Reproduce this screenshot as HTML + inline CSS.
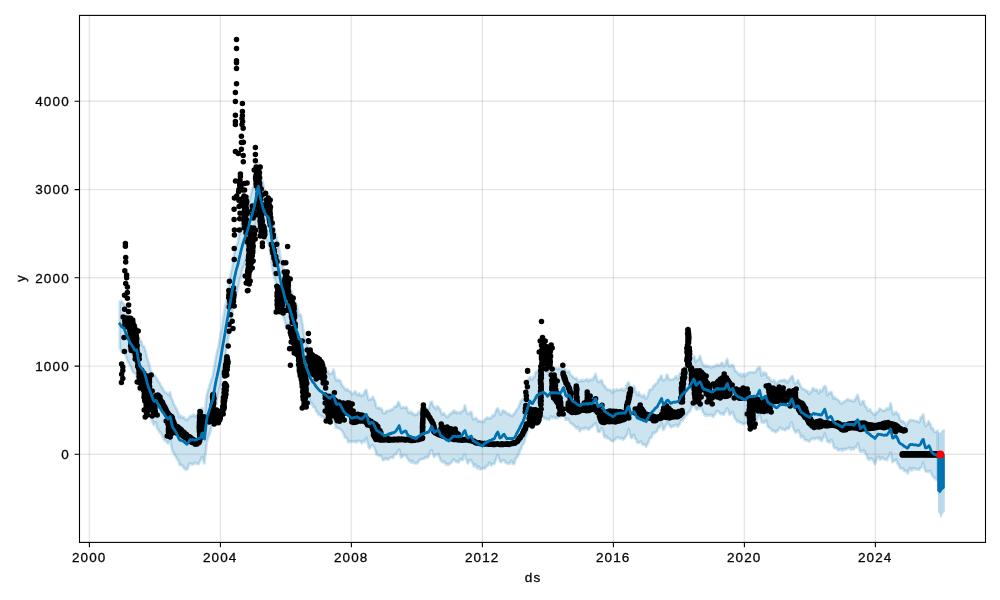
<!DOCTYPE html>
<html><head><meta charset="utf-8"><title>forecast</title><style>html,body{margin:0;padding:0;background:#fff;width:1000px;height:600px;overflow:hidden}.t text{font-family:"Liberation Sans",sans-serif}</style></head><body><svg width="1000" height="600" viewBox="0 0 1000 600" style="position:absolute;left:0;top:0">
<rect width="1000" height="600" fill="#fff"/>
<clipPath id="c"><rect x="79.5" y="15.4" width="906.0" height="527.0"/></clipPath>
<g clip-path="url(#c)">
<path d="M119.8 301.7 L120.4 302.0 L121.0 301.4 L121.6 301.1 L122.2 302.0 L122.8 303.1 L123.4 303.5 L124.0 303.9 L124.6 305.4 L125.2 306.4 L125.8 307.9 L126.4 310.7 L127.0 313.2 L127.6 314.7 L128.2 315.0 L128.8 315.4 L129.4 316.2 L130.0 317.8 L130.6 319.4 L131.2 319.6 L131.8 320.0 L132.4 322.2 L133.0 324.2 L133.6 324.3 L134.2 323.9 L134.8 325.0 L135.4 326.7 L136.0 326.3 L136.6 325.2 L137.2 328.2 L137.8 333.4 L138.4 337.3 L139.0 338.5 L139.6 340.6 L140.2 340.8 L140.8 340.8 L141.4 342.1 L142.0 344.1 L142.6 346.0 L143.2 346.0 L143.8 346.0 L144.4 347.5 L145.0 349.5 L145.6 350.9 L146.2 353.7 L146.8 356.4 L147.4 358.9 L148.0 361.1 L148.6 361.9 L149.2 364.6 L149.8 367.7 L150.4 369.7 L151.0 371.4 L151.6 373.1 L152.2 374.0 L152.8 374.4 L153.4 375.4 L154.0 376.1 L154.6 375.3 L155.2 375.7 L155.8 377.4 L156.4 377.9 L157.0 379.0 L157.6 380.3 L158.2 380.9 L158.8 381.9 L159.4 382.7 L160.0 383.2 L160.6 385.4 L161.2 386.8 L161.8 386.8 L162.4 387.6 L163.0 389.2 L163.6 390.7 L164.2 391.4 L164.8 391.9 L165.4 392.7 L166.0 392.7 L166.6 392.9 L167.2 393.9 L167.8 394.0 L168.4 394.9 L169.0 394.3 L169.6 392.8 L170.2 392.4 L170.8 396.0 L171.4 398.0 L172.0 399.0 L172.6 400.7 L173.2 402.4 L173.8 404.2 L174.4 405.0 L175.0 406.0 L175.6 407.3 L176.2 408.1 L176.8 409.8 L177.4 411.4 L178.0 412.2 L178.6 414.4 L179.2 417.4 L179.8 416.8 L180.4 415.3 L181.0 415.9 L181.6 417.3 L182.2 417.8 L182.8 417.2 L183.4 416.7 L184.0 417.3 L184.6 418.7 L185.2 419.1 L185.8 419.0 L186.4 419.4 L187.0 420.3 L187.6 419.6 L188.2 418.4 L188.8 417.9 L189.4 417.6 L190.0 416.0 L190.6 415.7 L191.2 416.2 L191.8 416.0 L192.4 415.7 L193.0 414.9 L193.6 414.5 L194.2 415.7 L194.8 416.5 L195.4 416.1 L196.0 415.7 L196.6 414.8 L197.2 414.4 L197.8 415.3 L198.4 416.4 L199.0 415.7 L199.6 414.4 L200.2 414.1 L200.8 413.5 L201.4 410.6 L202.0 408.1 L202.6 409.0 L203.2 409.9 L203.8 412.4 L204.4 415.4 L205.0 410.8 L205.6 405.5 L206.2 399.6 L206.8 394.4 L207.4 392.6 L208.0 390.6 L208.6 389.1 L209.2 386.8 L209.8 384.4 L210.4 382.6 L211.0 380.5 L211.6 378.9 L212.2 377.8 L212.8 376.0 L213.4 371.9 L214.0 368.1 L214.6 365.0 L215.2 361.4 L215.8 358.0 L216.4 355.0 L217.0 351.8 L217.6 349.5 L218.2 348.2 L218.8 344.3 L219.4 340.4 L220.0 338.3 L220.6 334.5 L221.2 331.4 L221.8 328.2 L222.4 323.8 L223.0 319.8 L223.6 316.5 L224.2 312.7 L224.8 308.3 L225.4 304.9 L226.0 302.8 L226.6 300.5 L227.2 297.6 L227.8 294.4 L228.4 290.1 L229.0 285.5 L229.6 281.2 L230.2 276.8 L230.8 273.4 L231.4 270.8 L232.0 268.2 L232.6 264.9 L233.2 260.4 L233.8 256.3 L234.4 253.1 L235.0 251.0 L235.6 248.9 L236.2 246.1 L236.8 244.5 L237.4 244.0 L238.0 241.5 L238.6 237.4 L239.2 234.1 L239.8 231.7 L240.4 229.5 L241.0 227.1 L241.6 225.0 L242.2 223.3 L242.8 222.0 L243.4 219.8 L244.0 217.2 L244.6 215.0 L245.2 212.7 L245.8 211.5 L246.4 210.6 L247.0 208.9 L247.6 207.2 L248.2 204.4 L248.8 202.2 L249.4 200.5 L250.0 198.0 L250.6 195.5 L251.2 193.1 L251.8 190.8 L252.4 188.8 L253.0 187.4 L253.6 186.3 L254.2 184.1 L254.8 180.2 L255.4 175.6 L256.0 173.2 L256.6 171.1 L257.2 167.6 L257.8 164.6 L258.4 163.2 L259.0 166.2 L259.6 170.9 L260.2 175.2 L260.8 176.6 L261.4 177.8 L262.0 179.8 L262.6 181.9 L263.2 183.8 L263.8 187.1 L264.4 190.1 L265.0 191.0 L265.6 191.4 L266.2 193.0 L266.8 194.2 L267.4 194.5 L268.0 195.2 L268.6 195.0 L269.2 198.1 L269.8 200.9 L270.4 202.7 L271.0 208.0 L271.6 214.0 L272.2 218.0 L272.8 220.5 L273.4 222.9 L274.0 226.5 L274.6 230.7 L275.2 232.7 L275.8 234.4 L276.4 237.2 L277.0 239.4 L277.6 242.0 L278.2 245.3 L278.8 248.1 L279.4 250.2 L280.0 253.7 L280.6 256.7 L281.2 259.5 L281.8 262.4 L282.4 264.8 L283.0 267.6 L283.6 269.9 L284.2 271.6 L284.8 273.9 L285.4 275.7 L286.0 277.1 L286.6 278.4 L287.2 279.4 L287.8 280.2 L288.4 281.0 L289.0 282.3 L289.6 284.5 L290.2 288.2 L290.8 290.7 L291.4 291.2 L292.0 292.5 L292.6 295.3 L293.2 298.4 L293.8 300.2 L294.4 300.1 L295.0 301.0 L295.6 302.6 L296.2 303.9 L296.8 306.0 L297.4 308.4 L298.0 310.8 L298.6 313.7 L299.2 315.3 L299.8 314.4 L300.4 314.3 L301.0 315.7 L301.6 319.5 L302.2 322.5 L302.8 325.9 L303.4 331.1 L304.0 334.5 L304.6 337.0 L305.2 340.1 L305.8 342.2 L306.4 343.2 L307.0 344.3 L307.6 346.1 L308.2 347.2 L308.8 348.2 L309.4 350.3 L310.0 352.0 L310.6 353.4 L311.2 355.2 L311.8 357.4 L312.4 358.5 L313.0 359.2 L313.6 359.4 L314.2 358.2 L314.8 358.2 L315.4 360.6 L316.0 362.8 L316.6 363.8 L317.2 364.9 L317.8 365.2 L318.4 364.9 L319.0 366.5 L319.6 367.9 L320.2 366.6 L320.8 365.7 L321.4 366.8 L322.0 368.1 L322.6 368.7 L323.2 368.9 L323.8 368.7 L324.4 369.0 L325.0 371.2 L325.6 373.3 L326.2 372.7 L326.8 371.7 L327.4 371.2 L328.0 371.1 L328.6 372.7 L329.2 373.8 L329.8 373.6 L330.4 373.7 L331.0 373.9 L331.6 373.6 L332.2 372.9 L332.8 371.3 L333.4 369.6 L334.0 370.9 L334.6 374.2 L335.2 377.1 L335.8 379.9 L336.4 380.8 L337.0 379.8 L337.6 379.6 L338.2 380.0 L338.8 380.1 L339.4 380.1 L340.0 380.3 L340.6 381.9 L341.2 383.1 L341.8 384.3 L342.4 385.8 L343.0 386.6 L343.6 386.9 L344.2 387.9 L344.8 388.6 L345.4 389.6 L346.0 390.2 L346.6 389.2 L347.2 388.8 L347.8 389.9 L348.4 390.6 L349.0 390.7 L349.6 391.4 L350.2 391.6 L350.8 392.0 L351.4 393.4 L352.0 394.3 L352.6 393.7 L353.2 393.4 L353.8 393.5 L354.4 392.4 L355.0 391.1 L355.6 391.9 L356.2 393.3 L356.8 394.4 L357.4 395.3 L358.0 394.7 L358.6 393.6 L359.2 393.3 L359.8 394.3 L360.4 395.7 L361.0 395.8 L361.6 395.1 L362.2 394.7 L362.8 395.3 L363.4 395.1 L364.0 393.4 L364.6 391.5 L365.2 390.6 L365.8 390.1 L366.4 389.9 L367.0 393.2 L367.6 396.0 L368.2 398.2 L368.8 400.1 L369.4 399.8 L370.0 399.2 L370.6 398.8 L371.2 399.0 L371.8 399.3 L372.4 397.7 L373.0 396.7 L373.6 398.5 L374.2 399.8 L374.8 400.6 L375.4 402.9 L376.0 406.1 L376.6 407.7 L377.2 407.3 L377.8 408.1 L378.4 408.4 L379.0 407.5 L379.6 407.9 L380.2 408.8 L380.8 408.7 L381.4 408.4 L382.0 409.6 L382.6 411.7 L383.2 413.0 L383.8 413.1 L384.4 413.0 L385.0 413.3 L385.6 412.2 L386.2 410.8 L386.8 410.9 L387.4 410.9 L388.0 410.7 L388.6 410.8 L389.2 411.0 L389.8 410.4 L390.4 409.8 L391.0 410.1 L391.6 409.5 L392.2 409.2 L392.8 409.3 L393.4 408.4 L394.0 407.4 L394.6 406.8 L395.2 406.3 L395.8 406.6 L396.4 406.8 L397.0 405.1 L397.6 403.5 L398.2 402.2 L398.8 402.1 L399.4 403.7 L400.0 405.6 L400.6 406.5 L401.2 408.2 L401.8 408.2 L402.4 407.5 L403.0 407.0 L403.6 407.0 L404.2 407.7 L404.8 407.9 L405.4 407.3 L406.0 406.9 L406.6 407.5 L407.2 408.9 L407.8 410.6 L408.4 412.1 L409.0 412.9 L409.6 412.7 L410.2 411.7 L410.8 411.5 L411.4 413.3 L412.0 413.8 L412.6 412.8 L413.2 413.6 L413.8 414.4 L414.4 414.4 L415.0 415.2 L415.6 414.6 L416.2 414.2 L416.8 414.8 L417.4 414.1 L418.0 413.0 L418.6 412.2 L419.2 411.5 L419.8 411.8 L420.4 411.1 L421.0 410.3 L421.6 410.3 L422.2 410.6 L422.8 410.4 L423.4 409.7 L424.0 409.7 L424.6 409.1 L425.2 408.3 L425.8 408.0 L426.4 407.5 L427.0 407.8 L427.6 408.6 L428.2 408.7 L428.8 408.8 L429.4 407.0 L430.0 404.1 L430.6 402.1 L431.2 401.9 L431.8 401.7 L432.4 403.4 L433.0 405.3 L433.6 407.2 L434.2 407.1 L434.8 406.6 L435.4 408.2 L436.0 409.3 L436.6 407.8 L437.2 406.3 L437.8 406.7 L438.4 407.1 L439.0 408.2 L439.6 408.5 L440.2 409.5 L440.8 411.5 L441.4 413.0 L442.0 414.6 L442.6 414.8 L443.2 413.3 L443.8 413.0 L444.4 413.8 L445.0 414.5 L445.6 415.4 L446.2 416.0 L446.8 416.7 L447.4 417.3 L448.0 416.6 L448.6 415.6 L449.2 414.8 L449.8 414.3 L450.4 413.4 L451.0 413.0 L451.6 413.7 L452.2 413.3 L452.8 411.8 L453.4 411.0 L454.0 410.5 L454.6 411.8 L455.2 412.6 L455.8 411.5 L456.4 412.0 L457.0 413.1 L457.6 412.7 L458.2 412.5 L458.8 412.4 L459.4 412.1 L460.0 412.9 L460.6 413.3 L461.2 411.8 L461.8 411.0 L462.4 411.0 L463.0 410.9 L463.6 410.0 L464.2 408.0 L464.8 405.3 L465.4 407.0 L466.0 409.9 L466.6 412.0 L467.2 413.3 L467.8 413.5 L468.4 414.2 L469.0 413.8 L469.6 412.9 L470.2 412.4 L470.8 411.7 L471.4 412.0 L472.0 414.4 L472.6 417.6 L473.2 419.6 L473.8 418.9 L474.4 418.5 L475.0 418.4 L475.6 417.9 L476.2 418.2 L476.8 418.9 L477.4 420.6 L478.0 421.5 L478.6 420.5 L479.2 420.5 L479.8 421.6 L480.4 421.8 L481.0 421.6 L481.6 421.4 L482.2 421.0 L482.8 421.7 L483.4 422.0 L484.0 421.1 L484.6 419.7 L485.2 418.8 L485.8 418.8 L486.4 418.4 L487.0 417.6 L487.6 417.4 L488.2 418.2 L488.8 418.4 L489.4 417.9 L490.0 417.9 L490.6 418.2 L491.2 417.9 L491.8 416.5 L492.4 415.4 L493.0 415.0 L493.6 415.2 L494.2 415.7 L494.8 414.6 L495.4 412.6 L496.0 410.7 L496.6 409.5 L497.2 408.8 L497.8 408.3 L498.4 409.7 L499.0 411.1 L499.6 412.6 L500.2 414.4 L500.8 414.8 L501.4 413.8 L502.0 412.0 L502.6 410.6 L503.2 410.3 L503.8 411.1 L504.4 411.7 L505.0 411.1 L505.6 411.8 L506.2 413.5 L506.8 413.4 L507.4 413.1 L508.0 414.2 L508.6 414.5 L509.2 413.6 L509.8 414.4 L510.4 415.6 L511.0 415.3 L511.6 415.3 L512.2 416.1 L512.8 415.2 L513.4 414.2 L514.0 414.2 L514.6 413.3 L515.2 412.1 L515.8 410.9 L516.4 410.0 L517.0 409.3 L517.6 408.8 L518.2 407.9 L518.8 406.2 L519.4 405.0 L520.0 403.4 L520.6 401.2 L521.2 400.6 L521.8 400.3 L522.4 399.3 L523.0 399.4 L523.6 399.1 L524.2 396.0 L524.8 393.1 L525.4 391.6 L526.0 389.3 L526.6 386.7 L527.2 385.5 L527.8 382.7 L528.4 379.2 L529.0 378.1 L529.6 377.5 L530.2 377.1 L530.8 378.2 L531.4 379.2 L532.0 379.7 L532.6 378.8 L533.2 377.1 L533.8 377.4 L534.4 377.1 L535.0 374.6 L535.6 372.1 L536.2 372.0 L536.8 372.5 L537.4 371.0 L538.0 369.8 L538.6 369.9 L539.2 370.2 L539.8 369.4 L540.4 368.2 L541.0 367.8 L541.6 368.7 L542.2 369.4 L542.8 369.0 L543.4 368.8 L544.0 368.9 L544.6 369.2 L545.2 369.8 L545.8 370.7 L546.4 371.8 L547.0 371.9 L547.6 371.8 L548.2 371.2 L548.8 370.8 L549.4 370.4 L550.0 369.8 L550.6 368.4 L551.2 367.6 L551.8 368.7 L552.4 369.2 L553.0 368.7 L553.6 369.5 L554.2 369.5 L554.8 368.1 L555.4 367.9 L556.0 368.7 L556.6 368.5 L557.2 368.5 L557.8 369.0 L558.4 368.3 L559.0 367.7 L559.6 368.0 L560.2 369.1 L560.8 369.2 L561.4 368.2 L562.0 366.7 L562.6 365.2 L563.2 363.8 L563.8 364.4 L564.4 367.7 L565.0 368.9 L565.6 369.3 L566.2 371.6 L566.8 372.6 L567.4 371.5 L568.0 371.2 L568.6 371.4 L569.2 371.1 L569.8 373.4 L570.4 374.8 L571.0 374.9 L571.6 375.7 L572.2 375.9 L572.8 376.3 L573.4 377.6 L574.0 378.1 L574.6 378.4 L575.2 378.7 L575.8 378.1 L576.4 377.9 L577.0 379.1 L577.6 380.7 L578.2 381.8 L578.8 381.3 L579.4 380.7 L580.0 381.5 L580.6 381.6 L581.2 380.0 L581.8 379.9 L582.4 380.8 L583.0 380.9 L583.6 380.6 L584.2 380.6 L584.8 380.4 L585.4 380.1 L586.0 379.5 L586.6 379.1 L587.2 379.2 L587.8 380.3 L588.4 381.5 L589.0 380.8 L589.6 379.7 L590.2 379.5 L590.8 379.4 L591.4 379.6 L592.0 379.9 L592.6 379.7 L593.2 378.6 L593.8 377.2 L594.4 376.6 L595.0 375.6 L595.6 373.7 L596.2 376.2 L596.8 378.7 L597.4 380.5 L598.0 381.8 L598.6 381.5 L599.2 382.1 L599.8 381.2 L600.4 380.5 L601.0 380.5 L601.6 380.1 L602.2 381.3 L602.8 383.7 L603.4 385.0 L604.0 385.7 L604.6 385.6 L605.2 386.4 L605.8 388.3 L606.4 388.5 L607.0 388.9 L607.6 390.0 L608.2 389.6 L608.8 389.5 L609.4 390.1 L610.0 390.2 L610.6 390.1 L611.2 391.2 L611.8 392.9 L612.4 392.2 L613.0 390.0 L613.6 389.9 L614.2 391.3 L614.8 391.1 L615.4 390.7 L616.0 390.0 L616.6 389.1 L617.2 389.8 L617.8 390.2 L618.4 390.0 L619.0 390.1 L619.6 390.0 L620.2 389.2 L620.8 389.0 L621.4 389.6 L622.0 389.1 L622.6 388.7 L623.2 390.0 L623.8 390.9 L624.4 390.5 L625.0 389.6 L625.6 388.5 L626.2 386.4 L626.8 384.7 L627.4 383.9 L628.0 382.7 L628.6 382.2 L629.2 384.6 L629.8 385.3 L630.4 386.8 L631.0 390.1 L631.6 390.4 L632.2 389.4 L632.8 387.9 L633.4 386.9 L634.0 386.0 L634.6 387.2 L635.2 390.0 L635.8 392.1 L636.4 393.0 L637.0 394.4 L637.6 395.1 L638.2 393.6 L638.8 392.4 L639.4 393.7 L640.0 395.2 L640.6 395.4 L641.2 395.2 L641.8 396.4 L642.4 397.1 L643.0 395.9 L643.6 395.0 L644.2 395.3 L644.8 396.9 L645.4 398.3 L646.0 398.7 L646.6 398.2 L647.2 397.0 L647.8 395.4 L648.4 393.6 L649.0 391.3 L649.6 389.9 L650.2 389.5 L650.8 389.0 L651.4 389.3 L652.0 389.4 L652.6 387.9 L653.2 386.1 L653.8 385.8 L654.4 385.9 L655.0 384.7 L655.6 383.8 L656.2 383.4 L656.8 383.2 L657.4 382.9 L658.0 380.7 L658.6 379.3 L659.2 379.5 L659.8 378.7 L660.4 377.2 L661.0 375.9 L661.6 375.8 L662.2 378.4 L662.8 380.0 L663.4 380.7 L664.0 380.4 L664.6 380.0 L665.2 379.5 L665.8 378.4 L666.4 376.1 L667.0 374.6 L667.6 375.4 L668.2 377.4 L668.8 378.5 L669.4 379.7 L670.0 379.8 L670.6 379.5 L671.2 379.6 L671.8 379.6 L672.4 379.7 L673.0 379.4 L673.6 378.9 L674.2 378.6 L674.8 377.7 L675.4 376.9 L676.0 376.4 L676.6 376.2 L677.2 377.4 L677.8 379.0 L678.4 379.3 L679.0 376.9 L679.6 374.0 L680.2 373.1 L680.8 373.0 L681.4 371.6 L682.0 370.1 L682.6 368.8 L683.2 369.0 L683.8 369.6 L684.4 368.9 L685.0 367.6 L685.6 366.2 L686.2 366.0 L686.8 366.6 L687.4 366.0 L688.0 364.9 L688.6 363.9 L689.2 363.4 L689.8 363.7 L690.4 362.6 L691.0 360.3 L691.6 359.4 L692.2 358.6 L692.8 357.5 L693.4 357.5 L694.0 356.2 L694.6 357.3 L695.2 360.0 L695.8 362.0 L696.4 361.1 L697.0 360.5 L697.6 360.0 L698.2 359.4 L698.8 359.1 L699.4 357.6 L700.0 355.8 L700.6 357.4 L701.2 360.0 L701.8 362.1 L702.4 363.2 L703.0 364.2 L703.6 365.3 L704.2 366.3 L704.8 366.0 L705.4 365.1 L706.0 365.8 L706.6 366.6 L707.2 366.1 L707.8 365.9 L708.4 366.1 L709.0 366.4 L709.6 366.6 L710.2 366.6 L710.8 367.7 L711.4 367.5 L712.0 367.0 L712.6 366.7 L713.2 366.2 L713.8 366.9 L714.4 367.0 L715.0 365.7 L715.6 365.4 L716.2 365.5 L716.8 364.7 L717.4 364.7 L718.0 365.7 L718.6 365.9 L719.2 365.0 L719.8 365.1 L720.4 364.7 L721.0 363.2 L721.6 362.9 L722.2 362.6 L722.8 363.4 L723.4 365.7 L724.0 366.2 L724.6 365.9 L725.2 364.4 L725.8 362.6 L726.4 360.7 L727.0 359.1 L727.6 360.2 L728.2 362.8 L728.8 365.1 L729.4 366.4 L730.0 366.3 L730.6 365.9 L731.2 365.1 L731.8 364.8 L732.4 365.1 L733.0 365.2 L733.6 366.2 L734.2 367.8 L734.8 369.7 L735.4 370.8 L736.0 371.5 L736.6 371.8 L737.2 372.5 L737.8 373.1 L738.4 373.7 L739.0 374.6 L739.6 375.1 L740.2 374.1 L740.8 373.7 L741.4 375.8 L742.0 376.6 L742.6 375.2 L743.2 373.9 L743.8 374.0 L744.4 375.2 L745.0 376.1 L745.6 375.4 L746.2 373.7 L746.8 373.8 L747.4 374.3 L748.0 373.1 L748.6 372.3 L749.2 372.5 L749.8 372.3 L750.4 372.2 L751.0 372.2 L751.6 372.0 L752.2 372.4 L752.8 372.8 L753.4 372.4 L754.0 372.0 L754.6 372.1 L755.2 372.1 L755.8 371.8 L756.4 371.1 L757.0 369.3 L757.6 368.0 L758.2 368.0 L758.8 368.3 L759.4 366.9 L760.0 367.1 L760.6 370.4 L761.2 374.2 L761.8 375.7 L762.4 374.4 L763.0 372.6 L763.6 372.1 L764.2 373.8 L764.8 374.4 L765.4 372.8 L766.0 372.9 L766.6 374.6 L767.2 376.6 L767.8 377.8 L768.4 377.4 L769.0 377.3 L769.6 378.4 L770.2 380.3 L770.8 380.8 L771.4 380.5 L772.0 381.1 L772.6 381.3 L773.2 381.0 L773.8 380.6 L774.4 380.3 L775.0 381.9 L775.6 383.5 L776.2 383.1 L776.8 383.6 L777.4 383.1 L778.0 381.6 L778.6 381.3 L779.2 381.1 L779.8 380.9 L780.4 380.6 L781.0 380.1 L781.6 380.2 L782.2 380.9 L782.8 380.7 L783.4 380.0 L784.0 379.5 L784.6 379.9 L785.2 380.6 L785.8 380.3 L786.4 381.1 L787.0 382.5 L787.6 382.1 L788.2 380.8 L788.8 380.2 L789.4 379.5 L790.0 379.2 L790.6 377.9 L791.2 377.1 L791.8 376.4 L792.4 376.0 L793.0 377.4 L793.6 380.1 L794.2 382.9 L794.8 383.6 L795.4 383.2 L796.0 383.4 L796.6 383.0 L797.2 381.2 L797.8 380.2 L798.4 380.9 L799.0 382.5 L799.6 383.8 L800.2 385.5 L800.8 386.6 L801.4 387.2 L802.0 388.3 L802.6 388.9 L803.2 389.2 L803.8 389.2 L804.4 389.3 L805.0 389.6 L805.6 390.4 L806.2 391.3 L806.8 391.1 L807.4 390.8 L808.0 391.8 L808.6 393.3 L809.2 394.1 L809.8 393.5 L810.4 391.7 L811.0 391.4 L811.6 391.7 L812.2 389.8 L812.8 388.2 L813.4 388.4 L814.0 388.7 L814.6 390.0 L815.2 390.6 L815.8 390.1 L816.4 389.4 L817.0 389.8 L817.6 391.1 L818.2 392.5 L818.8 393.5 L819.4 391.9 L820.0 389.8 L820.6 390.1 L821.2 391.2 L821.8 391.4 L822.4 390.0 L823.0 388.5 L823.6 387.3 L824.2 386.8 L824.8 385.8 L825.4 386.4 L826.0 387.4 L826.6 391.0 L827.2 395.2 L827.8 394.6 L828.4 393.1 L829.0 392.8 L829.6 393.4 L830.2 393.1 L830.8 392.0 L831.4 391.9 L832.0 393.6 L832.6 395.6 L833.2 398.0 L833.8 398.9 L834.4 397.2 L835.0 397.2 L835.6 398.8 L836.2 399.2 L836.8 398.7 L837.4 399.2 L838.0 400.0 L838.6 400.4 L839.2 400.8 L839.8 401.8 L840.4 402.9 L841.0 403.5 L841.6 403.5 L842.2 403.2 L842.8 402.1 L843.4 401.7 L844.0 401.9 L844.6 401.6 L845.2 401.1 L845.8 400.5 L846.4 400.3 L847.0 399.8 L847.6 399.1 L848.2 399.2 L848.8 400.0 L849.4 400.4 L850.0 400.2 L850.6 400.1 L851.2 400.4 L851.8 400.9 L852.4 401.2 L853.0 400.7 L853.6 400.7 L854.2 401.2 L854.8 400.6 L855.4 399.1 L856.0 397.8 L856.6 396.4 L857.2 395.3 L857.8 395.0 L858.4 397.3 L859.0 399.5 L859.6 402.1 L860.2 403.9 L860.8 404.4 L861.4 403.4 L862.0 401.9 L862.6 401.3 L863.2 400.9 L863.8 401.2 L864.4 403.8 L865.0 406.2 L865.6 406.6 L866.2 406.6 L866.8 408.0 L867.4 409.8 L868.0 410.5 L868.6 410.7 L869.2 409.9 L869.8 409.3 L870.4 409.5 L871.0 411.0 L871.6 412.2 L872.2 412.3 L872.8 413.1 L873.4 414.1 L874.0 414.2 L874.6 414.1 L875.2 414.7 L875.8 414.3 L876.4 412.5 L877.0 412.2 L877.6 412.3 L878.2 411.7 L878.8 410.6 L879.4 408.6 L880.0 408.6 L880.6 409.3 L881.2 409.7 L881.8 410.5 L882.4 410.6 L883.0 410.6 L883.6 410.5 L884.2 410.3 L884.8 410.9 L885.4 410.5 L886.0 408.9 L886.6 408.4 L887.2 408.8 L887.8 408.6 L888.4 409.1 L889.0 409.0 L889.6 407.1 L890.2 403.8 L890.8 403.2 L891.4 406.7 L892.0 409.8 L892.6 412.8 L893.2 414.2 L893.8 414.4 L894.4 412.6 L895.0 412.7 L895.6 413.3 L896.2 411.8 L896.8 412.9 L897.4 414.4 L898.0 413.9 L898.6 414.2 L899.2 416.5 L899.8 418.9 L900.4 419.9 L901.0 420.7 L901.6 421.6 L902.2 421.2 L902.8 420.8 L903.4 421.6 L904.0 422.6 L904.6 422.6 L905.2 423.0 L905.8 424.7 L906.4 425.6 L907.0 424.8 L907.6 423.5 L908.2 422.0 L908.8 421.7 L909.4 420.9 L910.0 419.8 L910.6 420.3 L911.2 420.4 L911.8 420.1 L912.4 420.2 L913.0 420.3 L913.6 420.1 L914.2 420.7 L914.8 421.4 L915.4 421.2 L916.0 420.7 L916.6 421.1 L917.2 421.6 L917.8 421.6 L918.4 421.7 L919.0 422.3 L919.6 421.8 L920.2 419.2 L920.8 417.4 L921.4 416.9 L922.0 416.7 L922.6 415.6 L923.2 414.4 L923.8 417.6 L924.4 421.5 L925.0 424.2 L925.6 426.1 L926.2 425.7 L926.8 425.2 L927.4 424.1 L928.0 422.4 L928.6 421.2 L929.2 422.0 L929.8 423.8 L930.4 424.2 L931.0 426.0 L931.6 428.6 L932.2 428.7 L932.8 428.2 L933.4 429.0 L934.0 431.1 L934.6 432.1 L935.2 431.9 L935.8 432.0 L936.4 431.7 L937.0 431.1 L937.6 430.6 L937.6 479.1 L937.0 479.6 L936.4 479.9 L935.8 479.2 L935.2 477.8 L934.6 478.3 L934.0 478.1 L933.4 476.6 L932.8 476.2 L932.2 475.6 L931.6 474.6 L931.0 472.2 L930.4 470.8 L929.8 471.0 L929.2 471.2 L928.6 472.0 L928.0 471.5 L927.4 471.4 L926.8 471.9 L926.2 471.6 L925.6 471.4 L925.0 469.7 L924.4 468.2 L923.8 465.8 L923.2 462.7 L922.6 464.2 L922.0 466.5 L921.4 467.6 L920.8 467.8 L920.2 467.9 L919.6 469.1 L919.0 469.8 L918.4 469.4 L917.8 469.3 L917.2 469.5 L916.6 469.4 L916.0 469.5 L915.4 468.5 L914.8 468.3 L914.2 469.3 L913.6 468.9 L913.0 468.1 L912.4 468.9 L911.8 470.5 L911.2 470.2 L910.6 468.5 L910.0 468.0 L909.4 469.2 L908.8 470.7 L908.2 472.7 L907.6 473.5 L907.0 472.1 L906.4 470.9 L905.8 470.5 L905.2 470.8 L904.6 471.2 L904.0 470.8 L903.4 469.0 L902.8 468.1 L902.2 468.6 L901.6 468.5 L901.0 468.5 L900.4 468.6 L899.8 467.8 L899.2 466.0 L898.6 464.4 L898.0 464.3 L897.4 463.7 L896.8 461.0 L896.2 459.2 L895.6 460.2 L895.0 460.8 L894.4 460.8 L893.8 460.9 L893.2 461.5 L892.6 462.2 L892.0 460.1 L891.4 456.3 L890.8 452.5 L890.2 453.1 L889.6 455.5 L889.0 456.8 L888.4 457.1 L887.8 458.1 L887.2 460.1 L886.6 459.9 L886.0 459.3 L885.4 459.5 L884.8 459.6 L884.2 459.4 L883.6 459.1 L883.0 458.3 L882.4 457.3 L881.8 457.6 L881.2 458.6 L880.6 459.1 L880.0 459.6 L879.4 458.2 L878.8 456.7 L878.2 456.8 L877.6 457.3 L877.0 458.4 L876.4 460.0 L875.8 461.6 L875.2 463.6 L874.6 464.1 L874.0 462.5 L873.4 460.6 L872.8 459.5 L872.2 459.4 L871.6 458.9 L871.0 458.2 L870.4 458.9 L869.8 459.8 L869.2 459.1 L868.6 459.0 L868.0 459.3 L867.4 457.5 L866.8 455.4 L866.2 454.5 L865.6 453.7 L865.0 452.9 L864.4 451.0 L863.8 450.2 L863.2 450.9 L862.6 451.5 L862.0 451.8 L861.4 451.1 L860.8 451.3 L860.2 451.9 L859.6 450.3 L859.0 447.7 L858.4 445.4 L857.8 443.2 L857.2 445.1 L856.6 447.5 L856.0 447.5 L855.4 446.9 L854.8 447.5 L854.2 448.6 L853.6 449.5 L853.0 449.3 L852.4 448.0 L851.8 448.4 L851.2 449.8 L850.6 449.3 L850.0 447.8 L849.4 447.4 L848.8 448.0 L848.2 448.6 L847.6 448.8 L847.0 448.8 L846.4 448.7 L845.8 448.9 L845.2 449.7 L844.6 449.7 L844.0 448.8 L843.4 449.0 L842.8 450.5 L842.2 450.9 L841.6 449.7 L841.0 448.9 L840.4 449.2 L839.8 450.1 L839.2 450.2 L838.6 450.1 L838.0 450.4 L837.4 449.1 L836.8 447.9 L836.2 448.3 L835.6 448.5 L835.0 448.2 L834.4 448.0 L833.8 447.2 L833.2 444.4 L832.6 442.1 L832.0 441.2 L831.4 439.6 L830.8 440.1 L830.2 442.2 L829.6 442.7 L829.0 441.4 L828.4 441.2 L827.8 441.7 L827.2 441.5 L826.6 438.9 L826.0 437.3 L825.4 435.4 L824.8 433.5 L824.2 436.2 L823.6 437.9 L823.0 437.8 L822.4 438.9 L821.8 440.8 L821.2 440.9 L820.6 440.1 L820.0 438.4 L819.4 437.5 L818.8 438.7 L818.2 439.2 L817.6 438.2 L817.0 438.0 L816.4 438.0 L815.8 438.0 L815.2 439.0 L814.6 439.4 L814.0 438.6 L813.4 438.3 L812.8 438.1 L812.2 438.6 L811.6 439.4 L811.0 439.3 L810.4 439.7 L809.8 441.2 L809.2 441.4 L808.6 441.4 L808.0 441.1 L807.4 440.6 L806.8 440.4 L806.2 440.0 L805.6 440.0 L805.0 440.2 L804.4 439.2 L803.8 437.7 L803.2 436.3 L802.6 436.2 L802.0 437.2 L801.4 437.6 L800.8 437.1 L800.2 434.8 L799.6 433.5 L799.0 432.1 L798.4 430.3 L797.8 430.9 L797.2 431.2 L796.6 431.8 L796.0 432.7 L795.4 432.3 L794.8 430.9 L794.2 430.2 L793.6 429.0 L793.0 427.4 L792.4 425.1 L791.8 422.5 L791.2 422.8 L790.6 424.7 L790.0 426.3 L789.4 427.8 L788.8 428.9 L788.2 428.8 L787.6 428.4 L787.0 427.9 L786.4 428.4 L785.8 429.7 L785.2 430.4 L784.6 430.0 L784.0 429.8 L783.4 429.4 L782.8 429.0 L782.2 429.3 L781.6 429.2 L781.0 428.6 L780.4 427.8 L779.8 427.5 L779.2 428.3 L778.6 430.1 L778.0 430.6 L777.4 430.1 L776.8 431.2 L776.2 432.2 L775.6 432.4 L775.0 431.7 L774.4 430.9 L773.8 430.7 L773.2 431.0 L772.6 431.1 L772.0 430.6 L771.4 429.9 L770.8 428.7 L770.2 427.8 L769.6 428.2 L769.0 427.7 L768.4 427.2 L767.8 426.7 L767.2 424.1 L766.6 421.1 L766.0 420.3 L765.4 421.2 L764.8 422.3 L764.2 422.6 L763.6 422.7 L763.0 422.4 L762.4 422.2 L761.8 422.6 L761.2 421.1 L760.6 417.7 L760.0 415.2 L759.4 415.4 L758.8 416.5 L758.2 416.6 L757.6 418.2 L757.0 420.6 L756.4 420.6 L755.8 419.4 L755.2 419.8 L754.6 420.7 L754.0 420.7 L753.4 420.3 L752.8 421.0 L752.2 421.8 L751.6 421.1 L751.0 420.9 L750.4 421.3 L749.8 421.8 L749.2 421.6 L748.6 420.6 L748.0 420.4 L747.4 420.7 L746.8 421.8 L746.2 423.2 L745.6 423.2 L745.0 423.5 L744.4 423.9 L743.8 423.9 L743.2 424.4 L742.6 423.9 L742.0 423.0 L741.4 422.9 L740.8 422.7 L740.2 423.0 L739.6 422.6 L739.0 421.5 L738.4 421.1 L737.8 421.8 L737.2 421.7 L736.6 420.2 L736.0 419.6 L735.4 419.2 L734.8 418.1 L734.2 416.4 L733.6 414.8 L733.0 412.7 L732.4 411.8 L731.8 412.8 L731.2 413.9 L730.6 414.1 L730.0 414.6 L729.4 414.6 L728.8 412.2 L728.2 410.0 L727.6 409.0 L727.0 408.5 L726.4 410.3 L725.8 411.5 L725.2 411.8 L724.6 413.0 L724.0 414.6 L723.4 414.9 L722.8 413.7 L722.2 413.5 L721.6 414.1 L721.0 414.3 L720.4 413.7 L719.8 413.1 L719.2 412.8 L718.6 411.9 L718.0 410.8 L717.4 410.8 L716.8 411.2 L716.2 411.9 L715.6 413.6 L715.0 414.5 L714.4 414.6 L713.8 415.7 L713.2 416.8 L712.6 416.5 L712.0 415.7 L711.4 414.8 L710.8 415.0 L710.2 415.4 L709.6 415.4 L709.0 415.5 L708.4 415.2 L707.8 414.9 L707.2 415.5 L706.6 415.8 L706.0 414.5 L705.4 414.6 L704.8 415.4 L704.2 414.1 L703.6 412.9 L703.0 412.2 L702.4 410.9 L701.8 409.0 L701.2 407.1 L700.6 407.0 L700.0 408.1 L699.4 408.7 L698.8 407.3 L698.2 407.8 L697.6 409.2 L697.0 409.7 L696.4 409.4 L695.8 408.9 L695.2 407.1 L694.6 405.5 L694.0 404.2 L693.4 405.0 L692.8 405.2 L692.2 405.8 L691.6 406.9 L691.0 408.5 L690.4 410.4 L689.8 411.7 L689.2 411.9 L688.6 412.1 L688.0 412.8 L687.4 414.1 L686.8 415.4 L686.2 415.3 L685.6 415.1 L685.0 416.5 L684.4 417.9 L683.8 418.4 L683.2 419.3 L682.6 420.6 L682.0 420.6 L681.4 420.2 L680.8 421.0 L680.2 422.9 L679.6 424.5 L679.0 424.9 L678.4 425.7 L677.8 426.7 L677.2 426.2 L676.6 424.6 L676.0 424.6 L675.4 425.6 L674.8 425.9 L674.2 425.3 L673.6 425.6 L673.0 426.7 L672.4 426.6 L671.8 426.7 L671.2 427.4 L670.6 427.2 L670.0 426.0 L669.4 425.0 L668.8 424.7 L668.2 423.8 L667.6 422.1 L667.0 423.4 L666.4 424.8 L665.8 425.6 L665.2 426.8 L664.6 427.7 L664.0 429.0 L663.4 430.1 L662.8 428.6 L662.2 425.9 L661.6 423.4 L661.0 424.2 L660.4 426.3 L659.8 427.8 L659.2 427.4 L658.6 426.9 L658.0 428.6 L657.4 430.3 L656.8 431.2 L656.2 432.0 L655.6 432.3 L655.0 432.9 L654.4 433.5 L653.8 432.6 L653.2 432.7 L652.6 434.5 L652.0 436.2 L651.4 437.5 L650.8 437.9 L650.2 437.9 L649.6 438.8 L649.0 440.3 L648.4 442.1 L647.8 443.8 L647.2 444.6 L646.6 446.0 L646.0 446.8 L645.4 444.9 L644.8 444.5 L644.2 444.9 L643.6 444.0 L643.0 444.2 L642.4 444.5 L641.8 442.8 L641.2 441.6 L640.6 441.7 L640.0 442.1 L639.4 442.7 L638.8 442.5 L638.2 442.4 L637.6 442.9 L637.0 441.8 L636.4 439.7 L635.8 439.4 L635.2 438.8 L634.6 436.8 L634.0 434.9 L633.4 435.4 L632.8 437.0 L632.2 437.8 L631.6 437.7 L631.0 438.0 L630.4 435.7 L629.8 433.4 L629.2 430.5 L628.6 429.0 L628.0 431.3 L627.4 433.4 L626.8 435.2 L626.2 436.0 L625.6 436.5 L625.0 437.8 L624.4 438.7 L623.8 439.0 L623.2 439.7 L622.6 439.3 L622.0 437.9 L621.4 437.8 L620.8 438.5 L620.2 438.4 L619.6 438.5 L619.0 438.4 L618.4 437.5 L617.8 437.4 L617.2 437.7 L616.6 437.9 L616.0 438.8 L615.4 439.4 L614.8 439.7 L614.2 440.1 L613.6 440.9 L613.0 441.4 L612.4 441.0 L611.8 441.0 L611.2 440.9 L610.6 440.2 L610.0 439.4 L609.4 439.0 L608.8 438.4 L608.2 437.9 L607.6 438.1 L607.0 438.3 L606.4 436.8 L605.8 435.9 L605.2 436.9 L604.6 437.5 L604.0 435.8 L603.4 432.9 L602.8 430.2 L602.2 428.3 L601.6 428.2 L601.0 429.0 L600.4 430.4 L599.8 431.7 L599.2 432.0 L598.6 432.0 L598.0 431.8 L597.4 429.0 L596.8 426.6 L596.2 424.5 L595.6 422.8 L595.0 424.4 L594.4 424.6 L593.8 424.6 L593.2 425.5 L592.6 426.2 L592.0 427.0 L591.4 427.4 L590.8 427.1 L590.2 427.6 L589.6 428.7 L589.0 429.7 L588.4 429.6 L587.8 428.7 L587.2 428.6 L586.6 428.4 L586.0 427.8 L585.4 427.7 L584.8 428.3 L584.2 429.3 L583.6 429.3 L583.0 428.5 L582.4 428.3 L581.8 428.8 L581.2 429.3 L580.6 430.0 L580.0 431.2 L579.4 431.0 L578.8 428.5 L578.2 426.8 L577.6 427.6 L577.0 428.5 L576.4 428.2 L575.8 427.4 L575.2 426.7 L574.6 426.2 L574.0 425.4 L573.4 424.6 L572.8 424.6 L572.2 424.4 L571.6 423.7 L571.0 423.4 L570.4 423.1 L569.8 422.1 L569.2 420.8 L568.6 419.7 L568.0 418.6 L567.4 419.1 L566.8 419.5 L566.2 420.2 L565.6 420.0 L565.0 416.9 L564.4 413.8 L563.8 413.0 L563.2 414.3 L562.6 414.4 L562.0 413.8 L561.4 415.4 L560.8 417.0 L560.2 416.5 L559.6 416.0 L559.0 416.5 L558.4 417.5 L557.8 418.3 L557.2 417.6 L556.6 417.2 L556.0 418.1 L555.4 418.9 L554.8 418.5 L554.2 416.9 L553.6 416.8 L553.0 417.5 L552.4 418.0 L551.8 417.9 L551.2 416.4 L550.6 416.3 L550.0 418.4 L549.4 419.8 L548.8 419.7 L548.2 418.9 L547.6 419.2 L547.0 419.4 L546.4 418.9 L545.8 417.9 L545.2 418.1 L544.6 418.7 L544.0 418.9 L543.4 417.7 L542.8 415.8 L542.2 416.1 L541.6 417.5 L541.0 417.6 L540.4 417.8 L539.8 418.8 L539.2 419.3 L538.6 418.7 L538.0 417.3 L537.4 417.4 L536.8 418.8 L536.2 419.9 L535.6 421.5 L535.0 423.0 L534.4 424.4 L533.8 426.3 L533.2 427.9 L532.6 428.3 L532.0 427.2 L531.4 426.6 L530.8 426.3 L530.2 425.6 L529.6 426.2 L529.0 427.2 L528.4 428.0 L527.8 429.4 L527.2 431.8 L526.6 434.4 L526.0 436.3 L525.4 437.9 L524.8 440.1 L524.2 442.2 L523.6 443.6 L523.0 444.2 L522.4 445.1 L521.8 447.0 L521.2 449.0 L520.6 449.7 L520.0 450.1 L519.4 452.0 L518.8 454.2 L518.2 455.3 L517.6 456.3 L517.0 457.6 L516.4 458.0 L515.8 458.2 L515.2 460.1 L514.6 462.8 L514.0 464.1 L513.4 464.0 L512.8 464.0 L512.2 462.4 L511.6 460.8 L511.0 461.2 L510.4 462.7 L509.8 463.7 L509.2 463.3 L508.6 463.5 L508.0 464.1 L507.4 463.2 L506.8 462.8 L506.2 463.2 L505.6 462.8 L505.0 461.6 L504.4 460.4 L503.8 460.1 L503.2 460.3 L502.6 460.4 L502.0 461.1 L501.4 462.0 L500.8 462.1 L500.2 461.7 L499.6 460.6 L499.0 458.8 L498.4 456.8 L497.8 455.2 L497.2 455.9 L496.6 457.6 L496.0 459.3 L495.4 461.0 L494.8 462.9 L494.2 464.0 L493.6 463.9 L493.0 463.7 L492.4 463.9 L491.8 465.0 L491.2 465.6 L490.6 464.7 L490.0 463.7 L489.4 462.7 L488.8 463.4 L488.2 465.3 L487.6 465.6 L487.0 465.9 L486.4 466.7 L485.8 466.9 L485.2 468.0 L484.6 468.7 L484.0 468.3 L483.4 468.2 L482.8 468.0 L482.2 468.3 L481.6 468.9 L481.0 469.3 L480.4 469.5 L479.8 469.1 L479.2 467.7 L478.6 466.2 L478.0 466.8 L477.4 468.5 L476.8 467.9 L476.2 465.6 L475.6 464.3 L475.0 464.8 L474.4 466.2 L473.8 466.5 L473.2 464.6 L472.6 463.0 L472.0 462.5 L471.4 461.1 L470.8 460.0 L470.2 460.3 L469.6 460.6 L469.0 460.7 L468.4 462.5 L467.8 463.4 L467.2 462.3 L466.6 460.1 L466.0 459.1 L465.4 457.1 L464.8 454.7 L464.2 454.9 L463.6 456.6 L463.0 459.6 L462.4 460.4 L461.8 460.1 L461.2 459.7 L460.6 458.9 L460.0 459.3 L459.4 460.9 L458.8 462.3 L458.2 462.5 L457.6 461.3 L457.0 461.1 L456.4 462.0 L455.8 461.7 L455.2 460.8 L454.6 460.4 L454.0 459.8 L453.4 459.4 L452.8 460.3 L452.2 461.4 L451.6 462.1 L451.0 462.9 L450.4 463.4 L449.8 464.1 L449.2 464.0 L448.6 464.7 L448.0 465.0 L447.4 463.8 L446.8 463.8 L446.2 464.6 L445.6 463.9 L445.0 462.8 L444.4 461.7 L443.8 461.7 L443.2 462.4 L442.6 462.2 L442.0 461.5 L441.4 461.1 L440.8 460.8 L440.2 459.1 L439.6 457.4 L439.0 455.9 L438.4 453.9 L437.8 454.0 L437.2 455.2 L436.6 455.1 L436.0 454.8 L435.4 455.3 L434.8 456.1 L434.2 457.1 L433.6 455.9 L433.0 454.0 L432.4 452.2 L431.8 450.2 L431.2 450.8 L430.6 450.9 L430.0 452.3 L429.4 454.4 L428.8 456.3 L428.2 457.1 L427.6 457.6 L427.0 457.9 L426.4 457.2 L425.8 456.6 L425.2 457.3 L424.6 458.5 L424.0 458.9 L423.4 458.7 L422.8 458.8 L422.2 458.7 L421.6 459.1 L421.0 459.5 L420.4 459.7 L419.8 460.0 L419.2 460.6 L418.6 461.4 L418.0 462.4 L417.4 462.9 L416.8 463.3 L416.2 463.2 L415.6 463.4 L415.0 463.5 L414.4 462.7 L413.8 462.8 L413.2 462.2 L412.6 460.9 L412.0 461.7 L411.4 462.8 L410.8 461.9 L410.2 460.7 L409.6 461.1 L409.0 460.9 L408.4 459.5 L407.8 459.1 L407.2 458.3 L406.6 456.6 L406.0 455.4 L405.4 455.3 L404.8 455.4 L404.2 454.9 L403.6 455.5 L403.0 456.5 L402.4 456.4 L401.8 457.0 L401.2 457.9 L400.6 456.0 L400.0 452.6 L399.4 449.5 L398.8 449.9 L398.2 451.0 L397.6 452.1 L397.0 453.5 L396.4 453.8 L395.8 454.2 L395.2 454.8 L394.6 454.6 L394.0 455.3 L393.4 457.1 L392.8 457.8 L392.2 457.4 L391.6 457.3 L391.0 457.5 L390.4 457.8 L389.8 457.9 L389.2 458.5 L388.6 459.6 L388.0 459.1 L387.4 458.9 L386.8 459.4 L386.2 458.3 L385.6 458.1 L385.0 459.3 L384.4 459.8 L383.8 459.9 L383.2 460.3 L382.6 459.7 L382.0 457.5 L381.4 456.1 L380.8 456.1 L380.2 456.4 L379.6 456.1 L379.0 455.5 L378.4 455.4 L377.8 455.1 L377.2 454.9 L376.6 455.0 L376.0 452.8 L375.4 450.4 L374.8 448.8 L374.2 447.6 L373.6 447.1 L373.0 445.6 L372.4 445.0 L371.8 445.7 L371.2 446.0 L370.6 447.1 L370.0 448.3 L369.4 448.4 L368.8 447.8 L368.2 445.3 L367.6 443.0 L367.0 440.7 L366.4 437.9 L365.8 439.2 L365.2 440.9 L364.6 441.8 L364.0 441.5 L363.4 440.6 L362.8 440.8 L362.2 442.2 L361.6 443.2 L361.0 442.4 L360.4 441.3 L359.8 441.0 L359.2 440.7 L358.6 441.0 L358.0 441.5 L357.4 441.0 L356.8 441.3 L356.2 442.7 L355.6 442.4 L355.0 441.0 L354.4 440.9 L353.8 441.5 L353.2 441.8 L352.6 442.0 L352.0 441.5 L351.4 441.4 L350.8 442.0 L350.2 441.7 L349.6 441.0 L349.0 441.2 L348.4 442.3 L347.8 441.2 L347.2 438.7 L346.6 437.9 L346.0 437.8 L345.4 437.6 L344.8 437.1 L344.2 435.6 L343.6 433.9 L343.0 432.6 L342.4 431.6 L341.8 430.7 L341.2 429.9 L340.6 429.6 L340.0 429.2 L339.4 428.7 L338.8 428.1 L338.2 428.2 L337.6 427.9 L337.0 427.6 L336.4 428.0 L335.8 427.8 L335.2 425.0 L334.6 421.8 L334.0 419.7 L333.4 418.8 L332.8 418.6 L332.2 419.5 L331.6 420.9 L331.0 421.2 L330.4 421.6 L329.8 422.3 L329.2 422.4 L328.6 422.0 L328.0 421.0 L327.4 420.5 L326.8 420.5 L326.2 419.3 L325.6 418.5 L325.0 418.7 L324.4 418.1 L323.8 417.3 L323.2 417.3 L322.6 416.7 L322.0 416.1 L321.4 416.6 L320.8 416.3 L320.2 415.3 L319.6 414.6 L319.0 414.6 L318.4 414.5 L317.8 412.7 L317.2 411.4 L316.6 411.7 L316.0 411.2 L315.4 408.5 L314.8 407.1 L314.2 407.4 L313.6 407.2 L313.0 406.2 L312.4 403.9 L311.8 403.0 L311.2 404.0 L310.6 404.1 L310.0 401.7 L309.4 398.4 L308.8 396.3 L308.2 394.4 L307.6 392.8 L307.0 392.4 L306.4 391.1 L305.8 388.8 L305.2 386.9 L304.6 385.0 L304.0 383.4 L303.4 381.2 L302.8 376.4 L302.2 371.8 L301.6 367.9 L301.0 364.6 L300.4 362.5 L299.8 362.4 L299.2 364.0 L298.6 363.4 L298.0 360.2 L297.4 356.6 L296.8 355.6 L296.2 355.3 L295.6 352.8 L295.0 350.0 L294.4 349.0 L293.8 347.5 L293.2 344.3 L292.6 341.9 L292.0 340.6 L291.4 338.5 L290.8 336.1 L290.2 333.4 L289.6 331.3 L289.0 330.6 L288.4 329.6 L287.8 329.2 L287.2 329.5 L286.6 328.3 L286.0 325.8 L285.4 323.6 L284.8 321.4 L284.2 318.8 L283.6 317.3 L283.0 316.0 L282.4 313.5 L281.8 309.6 L281.2 306.2 L280.6 304.3 L280.0 301.6 L279.4 298.1 L278.8 295.2 L278.2 293.1 L277.6 291.3 L277.0 287.1 L276.4 283.7 L275.8 282.1 L275.2 279.5 L274.6 277.9 L274.0 276.6 L273.4 273.3 L272.8 270.1 L272.2 267.5 L271.6 262.2 L271.0 256.8 L270.4 252.7 L269.8 249.1 L269.2 245.2 L268.6 242.9 L268.0 242.5 L267.4 240.8 L266.8 240.6 L266.2 240.3 L265.6 239.1 L265.0 237.7 L264.4 236.1 L263.8 234.7 L263.2 232.6 L262.6 230.9 L262.0 228.3 L261.4 224.9 L260.8 223.1 L260.2 221.3 L259.6 218.1 L259.0 214.6 L258.4 211.2 L257.8 212.4 L257.2 215.4 L256.6 218.7 L256.0 222.7 L255.4 225.3 L254.8 227.3 L254.2 230.2 L253.6 232.9 L253.0 235.9 L252.4 238.8 L251.8 240.7 L251.2 242.4 L250.6 243.8 L250.0 244.9 L249.4 246.4 L248.8 248.5 L248.2 251.3 L247.6 254.2 L247.0 256.1 L246.4 258.4 L245.8 260.7 L245.2 262.1 L244.6 263.6 L244.0 266.0 L243.4 267.3 L242.8 268.2 L242.2 270.8 L241.6 273.6 L241.0 275.7 L240.4 277.9 L239.8 280.3 L239.2 282.7 L238.6 285.4 L238.0 289.0 L237.4 291.6 L236.8 292.4 L236.2 294.4 L235.6 298.2 L235.0 300.3 L234.4 301.9 L233.8 305.0 L233.2 307.7 L232.6 310.6 L232.0 315.2 L231.4 320.2 L230.8 324.5 L230.2 327.4 L229.6 329.9 L229.0 333.3 L228.4 337.1 L227.8 340.4 L227.2 343.3 L226.6 347.5 L226.0 352.8 L225.4 356.4 L224.8 357.7 L224.2 360.4 L223.6 365.9 L223.0 370.5 L222.4 373.5 L221.8 376.4 L221.2 379.6 L220.6 384.1 L220.0 387.7 L219.4 388.8 L218.8 391.0 L218.2 394.9 L217.6 397.7 L217.0 400.3 L216.4 403.9 L215.8 406.8 L215.2 409.3 L214.6 413.4 L214.0 417.3 L213.4 420.1 L212.8 423.0 L212.2 425.3 L211.6 426.9 L211.0 428.6 L210.4 431.1 L209.8 433.3 L209.2 434.7 L208.6 436.7 L208.0 438.9 L207.4 440.2 L206.8 442.5 L206.2 449.1 L205.6 453.6 L205.0 457.1 L204.4 463.5 L203.8 462.8 L203.2 460.0 L202.6 458.6 L202.0 456.7 L201.4 458.0 L200.8 460.0 L200.2 460.4 L199.6 461.8 L199.0 463.7 L198.4 464.0 L197.8 463.4 L197.2 463.5 L196.6 463.7 L196.0 463.5 L195.4 463.1 L194.8 462.6 L194.2 463.0 L193.6 464.2 L193.0 464.5 L192.4 464.5 L191.8 464.5 L191.2 464.0 L190.6 463.4 L190.0 463.6 L189.4 464.1 L188.8 464.6 L188.2 467.1 L187.6 469.0 L187.0 469.6 L186.4 469.8 L185.8 470.0 L185.2 468.7 L184.6 468.2 L184.0 468.4 L183.4 467.0 L182.8 466.1 L182.2 465.7 L181.6 464.7 L181.0 464.9 L180.4 465.2 L179.8 464.9 L179.2 463.8 L178.6 461.1 L178.0 459.5 L177.4 459.5 L176.8 459.1 L176.2 456.9 L175.6 456.2 L175.0 456.0 L174.4 454.4 L173.8 453.0 L173.2 452.1 L172.6 451.8 L172.0 449.4 L171.4 446.3 L170.8 443.1 L170.2 440.2 L169.6 441.1 L169.0 442.0 L168.4 443.6 L167.8 443.5 L167.2 442.8 L166.6 441.9 L166.0 440.6 L165.4 440.3 L164.8 440.8 L164.2 439.8 L163.6 438.8 L163.0 437.9 L162.4 435.9 L161.8 434.9 L161.2 434.1 L160.6 431.9 L160.0 431.6 L159.4 432.3 L158.8 430.8 L158.2 429.0 L157.6 429.1 L157.0 428.0 L156.4 424.2 L155.8 422.2 L155.2 422.4 L154.6 423.6 L154.0 424.9 L153.4 424.2 L152.8 423.1 L152.2 421.6 L151.6 419.1 L151.0 416.8 L150.4 416.1 L149.8 415.4 L149.2 413.7 L148.6 412.0 L148.0 411.1 L147.4 409.1 L146.8 406.7 L146.2 403.9 L145.6 400.7 L145.0 398.5 L144.4 396.5 L143.8 395.1 L143.2 394.1 L142.6 393.8 L142.0 393.0 L141.4 391.8 L140.8 391.0 L140.2 390.9 L139.6 390.8 L139.0 387.7 L138.4 384.1 L137.8 380.5 L137.2 377.6 L136.6 374.8 L136.0 374.4 L135.4 374.1 L134.8 373.3 L134.2 372.9 L133.6 372.6 L133.0 371.8 L132.4 370.8 L131.8 369.6 L131.2 367.8 L130.6 366.7 L130.0 365.7 L129.4 364.2 L128.8 363.4 L128.2 362.2 L127.6 361.4 L127.0 359.7 L126.4 357.2 L125.8 355.5 L125.2 353.2 L124.6 351.5 L124.0 351.8 L123.4 352.3 L122.8 352.1 L122.2 352.1 L121.6 351.8 L121.0 350.4 L120.4 348.8 L119.8 348.1Z" fill="#0072B2" fill-opacity="0.2" stroke="#0072B2" stroke-opacity="0.2" stroke-width="2.7" stroke-linejoin="round"/>
<path d="M938 432L940 433L942 430.5L944.2 429L944.8 430V512L943 513L941 518.5L939.5 514L938 512Z" fill="#0072B2" fill-opacity="0.27"/>
<path d="M89.4 15.4V542.4" stroke="#808080" stroke-opacity="0.2" stroke-width="1.39" fill="none"/>
<path d="M220.4 15.4V542.4" stroke="#808080" stroke-opacity="0.2" stroke-width="1.39" fill="none"/>
<path d="M351.4 15.4V542.4" stroke="#808080" stroke-opacity="0.2" stroke-width="1.39" fill="none"/>
<path d="M482.4 15.4V542.4" stroke="#808080" stroke-opacity="0.2" stroke-width="1.39" fill="none"/>
<path d="M613.4 15.4V542.4" stroke="#808080" stroke-opacity="0.2" stroke-width="1.39" fill="none"/>
<path d="M744.4 15.4V542.4" stroke="#808080" stroke-opacity="0.2" stroke-width="1.39" fill="none"/>
<path d="M875.4 15.4V542.4" stroke="#808080" stroke-opacity="0.2" stroke-width="1.39" fill="none"/>
<path d="M79.5 454.3H985.5" stroke="#808080" stroke-opacity="0.2" stroke-width="1.39" fill="none"/>
<path d="M79.5 366.1H985.5" stroke="#808080" stroke-opacity="0.2" stroke-width="1.39" fill="none"/>
<path d="M79.5 277.8H985.5" stroke="#808080" stroke-opacity="0.2" stroke-width="1.39" fill="none"/>
<path d="M79.5 189.6H985.5" stroke="#808080" stroke-opacity="0.2" stroke-width="1.39" fill="none"/>
<path d="M79.5 101.3H985.5" stroke="#808080" stroke-opacity="0.2" stroke-width="1.39" fill="none"/>
<path d="M125.4 243.4h0M125.4 246.3h0M125.7 257.4h0M125.7 262.1h0M124.8 270.8h0M126.6 274.9h0M126.6 277.8h0M125.7 283.6h0M127.4 287.1h0M127.4 292.4h0M124.5 295.3h0M127.4 298.2h0M128.6 305.0h0M124.6 309.2h0M128.6 311.6h0M124.0 337.4h0M124.4 351.4h0M121.6 364.0h0M122.8 367.0h0M122.8 370.6h0M121.6 374.2h0M122.8 378.4h0M121.4 382.4h0M236.5 39.5h0M236.5 48.6h0M236.5 60.8h0M236.5 62.7h0M236.5 68.5h0M236.5 83.7h0M235.4 92.6h0M235.4 101.6h0M242.4 103.4h0M242.4 111.5h0M235.4 115.2h0M242.4 115.7h0M242.0 118.6h0M235.4 121.6h0M242.6 121.6h0M235.4 124.6h0M242.0 124.6h0M243.2 128.2h0M241.4 136.2h0M241.4 142.6h0M243.4 142.2h0M241.4 149.2h0M235.4 151.4h0M238.2 153.4h0M243.2 155.4h0M243.3 161.7h0M255.4 147.4h0M255.4 154.6h0M255.4 160.7h0M240.4 174.0h0M240.4 176.4h0M235.5 181.0h0M240.0 180.3h0M244.6 183.4h0M239.7 185.5h0M244.6 190.1h0M238.6 191.8h0M235.5 197.8h0M241.1 199.2h0M234.4 198.1h0M234.1 209.3h0M234.1 219.5h0M234.4 230.0h0M234.4 234.9h0M239.3 230.0h0M239.7 218.8h0M240.0 213.2h0M239.0 200.6h0M244.2 228.0h0M246.0 232.8h0M253.8 228.0h0M251.7 233.0h0M254.5 234.3h0M234.2 248.4h0M234.2 259.4h0M229.4 281.2h0M228.8 290.4h0M228.8 295.2h0M233.6 288.0h0M233.6 293.0h0M232.5 297.0h0M248.0 290.4h0M262.4 243.0h0M262.4 246.6h0M265.6 193.2h0M266.3 199.9h0M272.6 230.0h0M273.3 234.9h0M272.0 230.4h0M273.2 237.0h0M276.8 244.2h0M287.6 246.6h0M285.8 262.8h0M283.4 262.8h0M276.2 273.6h0M276.8 286.2h0M279.2 292.2h0M277.0 296.0h0M286.8 310.2h0M289.8 348.6h0M308.4 333.4h0M308.4 340.8h0M289.6 348.8h0M290.4 365.3h0M308.8 341.6h0M325.6 388.0h0M334.4 392.8h0M230.6 314.8h0M232.2 321.2h0M229.0 324.4h0M233.0 328.4h0M229.0 331.3h0M228.2 346.0h0M225.0 383.6h0M247.4 290.8h0M226.5 371.0h0M226.8 375.0h0M423.4 405.0h0M541.5 321.5h0M542.5 337.5h0M527.6 370.5h0M562.8 365.2h0M595.6 398.8h0M602.0 405.2h0M527.6 371.2h0M526.4 382.6h0M527.4 386.8h0M525.8 392.2h0M526.4 395.8h0M526.4 399.4h0M525.8 405.4h0M525.4 408.4h0M525.2 412.0h0M628.8 418.0h0M682.2 401.8h0M688.0 329.5h0M768.8 385.6h0M794.8 391.6h0M793.7 390.4h0M792.0 391.5h0M790.1 393.5h0M790.8 395.8h0M790.6 398.5h0M790.8 401.1h0M791.7 402.1h0M792.1 403.8h0M795.1 404.0h0M795.7 402.3h0M795.5 400.3h0M795.7 397.6h0M795.5 395.4h0M795.5 393.0h0M746.3 398.0h0M745.9 395.9h0M745.8 394.2h0M745.7 391.4h0M744.1 390.6h0M741.4 390.2h0M739.9 389.9h0M738.2 390.9h0M736.1 392.3h0M737.0 394.5h0M736.4 396.1h0M737.7 396.7h0M739.3 398.3h0M741.5 398.2h0M744.2 397.9h0M750.2 399.9h0M749.6 402.0h0M750.1 404.1h0M749.4 405.4h0M749.6 408.0h0M749.1 410.1h0M749.7 412.8h0M749.7 415.0h0M749.4 417.4h0M750.2 419.6h0M749.8 420.8h0M749.6 423.1h0M750.1 425.0h0M751.0 426.4h0M752.5 424.8h0M752.9 422.0h0M752.7 420.7h0M753.3 419.2h0M753.1 415.9h0M753.1 414.2h0M753.1 411.1h0M753.4 408.9h0M752.8 407.5h0M753.4 405.1h0M752.8 403.1h0M752.8 401.0h0M751.9 399.8h0M758.5 401.3h0M758.8 402.7h0M758.8 404.3h0M759.1 406.1h0M760.2 409.0h0M761.3 411.3h0M762.1 410.8h0M764.0 411.5h0M767.4 410.8h0M769.1 409.9h0M770.2 409.0h0M770.0 406.2h0M770.1 404.6h0M770.8 402.1h0M772.9 400.9h0M773.7 401.7h0M776.5 401.6h0M779.2 400.9h0M780.4 400.4h0M783.0 400.2h0M783.1 398.4h0M783.1 395.8h0M782.8 394.6h0M782.4 392.1h0M781.5 390.0h0M780.2 389.5h0M777.5 389.3h0M775.4 389.8h0M773.6 390.6h0M772.0 390.5h0M770.2 388.5h0M769.3 387.1h0M768.5 389.1h0M768.9 391.7h0M769.4 393.7h0M769.1 395.8h0M769.2 398.0h0M769.0 399.9h0M766.6 400.3h0M764.8 400.8h0M762.4 400.5h0M760.4 400.1h0M729.7 383.1h0M728.7 381.5h0M727.7 380.0h0M726.5 377.7h0M724.5 377.0h0M722.5 377.8h0M720.4 379.0h0M718.4 380.9h0M717.3 382.2h0M716.2 383.7h0M716.0 386.8h0M715.6 387.3h0M715.9 390.2h0M716.6 392.6h0M716.2 394.5h0M719.0 394.6h0M720.6 395.4h0M722.9 395.9h0M725.0 396.4h0M727.1 396.3h0M728.8 395.5h0M730.0 393.8h0M729.9 391.4h0M729.8 389.6h0M730.1 387.1h0M729.4 384.9h0M707.2 389.4h0M708.6 392.1h0M709.1 393.9h0M708.8 396.7h0M709.0 398.8h0M709.6 400.6h0M710.1 401.7h0M709.7 399.4h0M709.4 398.2h0M709.4 395.4h0M710.0 393.2h0M709.4 391.3h0M709.3 389.2h0M709.9 387.7h0M708.6 385.6h0M707.6 383.2h0M706.3 382.0h0M705.4 379.8h0M704.3 378.2h0M703.5 376.3h0M703.2 374.3h0M701.7 372.5h0M699.7 370.8h0M697.3 371.0h0M695.5 371.0h0M694.3 372.6h0M693.3 374.2h0M694.1 376.2h0M694.0 378.7h0M694.2 380.1h0M693.7 381.7h0M694.5 384.0h0M694.5 386.8h0M694.0 388.9h0M694.6 391.0h0M694.3 393.2h0M694.5 394.5h0M694.8 397.5h0M695.2 399.5h0M695.4 401.5h0M696.8 401.6h0M698.1 402.0h0M698.8 399.4h0M698.6 398.1h0M699.2 395.0h0M699.1 393.2h0M699.6 391.3h0M699.8 388.1h0M700.0 387.4h0M700.9 385.4h0M703.4 386.1h0M704.6 387.4h0M706.3 388.5h0M643.6 411.4h0M642.2 409.4h0M641.6 408.7h0M639.2 407.4h0M638.2 408.5h0M637.4 410.8h0M638.0 413.7h0M639.1 413.4h0M642.0 414.2h0M642.9 414.9h0M644.8 416.3h0M643.8 413.4h0M587.2 394.8h0M587.6 397.9h0M587.4 399.9h0M587.0 401.2h0M588.2 402.7h0M588.5 400.7h0M587.9 398.6h0M587.8 397.3h0M552.6 377.5h0M552.5 378.7h0M551.7 380.5h0M552.0 383.4h0M552.5 385.7h0M551.8 386.8h0M551.7 389.3h0M552.4 391.9h0M552.8 394.1h0M553.1 395.9h0M553.6 398.0h0M555.1 399.5h0M556.5 401.6h0M557.6 403.0h0M559.1 406.0h0M558.7 407.0h0M559.9 409.8h0M560.2 411.3h0M561.2 411.7h0M560.5 409.4h0M560.9 407.6h0M560.8 405.1h0M560.7 402.6h0M560.3 400.9h0M560.2 398.2h0M559.5 397.2h0M558.0 395.3h0M556.9 392.8h0M555.4 391.1h0M555.8 389.4h0M555.2 386.5h0M555.5 385.4h0M554.4 383.0h0M554.6 380.3h0M554.6 378.2h0M549.8 366.8h0M550.1 364.7h0M550.3 362.0h0M550.1 360.2h0M550.0 358.7h0M550.6 356.3h0M549.9 354.2h0M550.4 351.3h0M549.7 350.2h0M549.5 347.4h0M548.6 347.2h0M546.3 346.6h0M544.4 345.4h0M543.1 343.3h0M541.9 343.4h0M541.5 345.3h0M542.2 347.5h0M541.5 350.5h0M541.9 352.6h0M541.6 353.9h0M541.4 356.9h0M541.5 359.0h0M542.3 360.8h0M541.8 362.9h0M544.0 363.8h0M545.7 364.3h0M547.0 366.1h0M547.9 366.7h0M540.3 413.0h0M538.9 410.3h0M538.2 410.5h0M535.5 409.7h0M533.9 409.7h0M531.6 411.4h0M530.6 412.7h0M530.1 414.8h0M529.6 416.7h0M529.1 418.4h0M529.4 421.7h0M530.0 423.5h0M529.8 424.6h0M532.6 423.1h0M534.5 423.1h0M537.2 422.8h0M538.3 421.6h0M539.0 419.7h0M539.1 417.5h0M540.0 415.7h0M454.5 431.6h0M452.3 430.4h0M450.9 428.8h0M448.8 429.7h0M445.5 429.1h0M444.5 429.0h0M443.0 427.0h0M441.1 428.1h0M441.6 430.0h0M442.7 431.1h0M444.1 431.7h0M446.5 432.6h0M448.0 432.6h0M450.8 433.0h0M453.0 433.4h0M454.4 433.4h0M456.0 432.2h0M347.4 402.9h0M345.5 404.8h0M345.9 406.4h0M345.7 409.1h0M343.4 409.9h0M341.4 409.6h0M340.6 407.3h0M338.6 405.1h0M337.9 404.5h0M335.8 402.0h0M335.3 400.2h0M334.1 399.3h0M332.3 398.3h0M329.4 396.3h0M328.0 397.0h0M327.9 398.2h0M327.6 401.5h0M327.8 402.4h0M327.8 405.3h0M327.3 406.9h0M327.4 409.1h0M327.9 411.6h0M327.9 413.4h0M328.3 415.0h0M328.3 418.1h0M328.8 419.7h0M330.0 417.6h0M330.4 415.8h0M332.3 414.7h0M334.8 414.9h0M335.4 416.5h0M336.3 418.6h0M337.2 420.8h0M339.5 421.3h0M340.8 419.9h0M342.3 417.8h0M342.2 415.8h0M342.0 414.0h0M344.2 413.0h0M345.8 413.1h0M347.4 413.3h0M350.1 413.0h0M350.4 411.1h0M350.2 408.7h0M350.2 406.7h0M349.9 405.7h0M349.2 402.9h0M309.2 352.5h0M309.4 354.8h0M309.6 356.9h0M310.0 358.3h0M309.8 360.4h0M309.9 363.1h0M310.1 364.8h0M310.2 367.4h0M311.1 369.2h0M311.6 371.0h0M311.8 372.1h0M313.6 374.8h0M315.3 375.7h0M316.9 376.3h0M318.8 377.0h0M321.1 377.8h0M322.6 379.1h0M324.1 380.5h0M323.9 380.1h0M324.6 377.1h0M323.8 375.8h0M323.8 373.4h0M324.2 371.5h0M324.0 369.0h0M322.9 366.8h0M322.6 365.1h0M321.9 362.8h0M320.9 361.5h0M319.3 359.3h0M317.6 358.0h0M315.8 357.1h0M314.8 356.5h0M312.6 354.9h0M310.8 353.2h0M296.8 354.5h0M298.8 356.6h0M298.6 358.0h0M298.6 360.5h0M299.2 362.4h0M298.6 364.8h0M299.4 366.8h0M299.3 369.4h0M299.4 371.1h0M300.0 373.3h0M300.2 375.8h0M301.0 377.2h0M301.3 379.2h0M301.7 380.5h0M301.9 383.2h0M302.9 384.8h0M302.2 386.6h0M303.0 389.9h0M302.6 391.9h0M303.4 393.9h0M302.9 396.5h0M303.8 398.0h0M303.2 399.3h0M304.1 402.6h0M304.2 404.3h0M303.9 405.5h0M304.5 403.1h0M304.9 401.1h0M305.4 398.3h0M305.7 396.5h0M305.4 394.3h0M306.2 392.3h0M306.2 389.9h0M305.9 388.1h0M305.9 386.2h0M306.8 383.3h0M306.3 382.2h0M306.1 380.0h0M305.7 377.8h0M305.6 376.0h0M305.3 373.6h0M305.8 372.0h0M304.4 369.3h0M303.1 368.4h0M302.5 366.3h0M301.2 365.0h0M301.1 362.6h0M301.0 360.4h0M301.0 357.9h0M300.4 355.8h0M300.6 353.7h0M300.3 352.3h0M300.0 349.5h0M300.0 346.9h0M300.3 345.9h0M299.8 343.4h0M298.9 342.2h0M296.6 342.7h0M295.1 340.7h0M295.1 339.3h0M294.8 336.0h0M294.4 334.3h0M293.7 332.1h0M293.6 330.5h0M292.7 328.5h0M290.9 328.4h0M290.6 330.7h0M290.3 332.6h0M290.9 334.7h0M291.7 337.2h0M292.4 338.7h0M292.9 340.0h0M293.8 342.7h0M294.1 344.6h0M295.1 346.4h0M295.9 348.4h0M296.3 350.7h0M296.9 352.2h0M284.2 285.3h0M283.4 286.8h0M281.7 287.7h0M279.7 287.8h0M277.4 288.0h0M277.7 289.3h0M277.2 292.5h0M277.1 293.6h0M277.1 295.9h0M277.6 297.9h0M277.1 300.3h0M277.3 302.6h0M277.1 304.6h0M277.4 306.5h0M277.5 308.8h0M278.6 310.2h0M280.3 311.8h0M281.1 310.6h0M282.0 308.7h0M282.2 306.0h0M282.4 304.3h0M282.7 302.5h0M282.3 300.3h0M282.6 298.2h0M283.1 296.3h0M284.2 295.1h0M286.4 294.8h0M288.0 293.8h0M288.5 291.6h0M288.0 290.3h0M288.1 287.4h0M288.4 285.2h0M288.2 283.6h0M288.4 281.7h0M287.4 279.4h0M287.4 277.4h0M286.6 274.9h0M285.7 274.3h0M285.5 275.9h0M284.9 278.7h0M284.1 281.4h0M284.6 283.0h0M290.4 299.8h0M290.1 302.2h0M290.1 303.9h0M291.0 305.8h0M290.9 308.4h0M290.7 310.6h0M291.1 312.5h0M291.4 314.1h0M291.4 316.5h0M291.9 318.6h0M292.4 320.2h0M292.2 322.5h0M293.7 321.0h0M293.8 319.1h0M294.6 317.3h0M294.6 315.8h0M293.9 312.7h0M293.9 311.6h0M294.2 308.8h0M294.1 306.3h0M293.7 304.5h0M292.4 302.6h0M292.1 300.4h0M269.7 221.9h0M270.6 219.4h0M270.7 217.5h0M270.2 215.8h0M270.3 213.8h0M269.9 210.9h0M270.0 209.9h0M270.5 206.9h0M269.5 205.5h0M269.0 202.5h0M267.7 201.1h0M266.5 200.1h0M267.0 202.1h0M266.6 205.9h0M266.8 207.0h0M267.9 208.8h0M268.3 211.2h0M268.8 213.5h0M269.1 215.7h0M269.2 218.6h0M269.4 219.7h0M258.3 197.7h0M258.4 199.6h0M258.4 202.1h0M258.6 204.1h0M258.4 206.8h0M259.0 208.5h0M259.0 210.8h0M259.6 213.2h0M259.1 215.0h0M260.0 216.9h0M260.4 219.4h0M260.0 221.1h0M260.3 223.8h0M261.0 225.7h0M260.4 227.0h0M261.2 229.7h0M261.0 232.3h0M262.0 234.1h0M263.2 234.7h0M263.4 232.2h0M262.9 231.1h0M262.9 229.0h0M262.6 226.6h0M262.0 223.9h0M262.3 221.7h0M262.2 220.5h0M261.8 218.4h0M261.5 215.3h0M261.1 213.2h0M261.4 211.6h0M260.9 209.3h0M260.5 208.0h0M260.3 205.4h0M260.2 202.8h0M260.4 200.6h0M260.6 199.6h0M260.0 196.5h0M259.6 194.7h0M259.7 192.6h0M258.8 190.4h0M258.6 188.2h0M259.6 186.1h0M259.6 183.2h0M259.1 181.5h0M258.9 179.5h0M259.6 177.8h0M259.1 175.4h0M259.5 172.8h0M258.8 171.7h0M258.8 169.2h0M258.0 169.0h0M256.9 170.8h0M256.5 173.2h0M255.9 175.5h0M255.5 177.5h0M255.7 179.2h0M256.0 180.9h0M256.1 184.0h0M256.3 185.9h0M258.0 187.6h0M258.0 189.8h0M258.6 191.5h0M258.1 193.7h0M258.1 196.3h0M247.7 280.3h0M248.6 278.5h0M248.7 276.5h0M248.8 275.5h0M249.0 272.9h0M250.0 270.5h0M249.6 268.4h0M250.0 266.3h0M250.3 264.3h0M251.2 262.9h0M250.9 259.6h0M251.2 257.9h0M252.3 255.8h0M252.2 253.3h0M252.8 252.4h0M252.9 250.5h0M253.1 247.6h0M253.3 246.1h0M252.7 243.4h0M253.2 241.0h0M252.1 240.9h0M249.8 241.1h0M249.8 242.6h0M249.0 245.7h0M249.6 247.5h0M248.7 249.8h0M249.3 251.3h0M249.2 253.2h0M248.6 255.5h0M248.6 257.3h0M248.2 260.2h0M248.7 262.3h0M248.2 264.6h0M248.6 266.3h0M248.1 268.4h0M247.6 271.0h0M247.6 272.0h0M248.1 274.1h0M247.9 276.2h0M247.7 278.6h0M247.1 227.2h0M247.1 229.6h0M246.9 231.4h0M248.0 232.6h0M250.3 233.6h0M252.4 233.0h0M252.9 231.2h0M252.5 228.8h0M251.1 227.9h0M248.6 227.3h0M229.2 293.0h0M229.5 295.4h0M228.7 297.4h0M229.5 299.5h0M229.8 301.2h0M230.0 303.5h0M231.1 304.7h0M232.9 303.4h0M233.5 301.6h0M233.3 298.9h0M233.8 297.0h0M234.1 294.8h0M233.7 292.7h0M230.7 292.4h0M209.9 419.2h0M212.6 418.3h0M214.1 419.2h0M214.7 420.9h0M216.4 422.6h0M218.4 422.8h0M219.7 420.1h0M220.3 418.3h0M220.5 415.7h0M220.5 413.6h0M220.3 411.6h0M218.8 411.4h0M216.7 410.1h0M215.0 410.0h0M211.7 410.6h0M210.9 412.6h0M210.7 414.9h0M210.2 417.0h0M168.6 433.2h0M169.2 431.7h0M169.5 428.9h0M169.4 427.1h0M169.3 425.1h0M167.8 423.6h0M168.2 424.5h0M168.5 427.2h0M168.4 429.5h0M168.4 431.5h0M154.0 413.7h0M155.1 413.0h0M155.3 411.2h0M155.0 408.2h0M154.8 406.5h0M153.2 407.6h0M154.0 409.6h0M153.5 412.1h0M135.2 350.8h0M137.0 352.8h0M137.2 351.9h0M137.0 349.7h0M136.8 347.6h0M137.2 345.6h0M136.3 343.0h0M136.6 341.2h0M136.8 338.5h0M136.4 337.2h0M136.2 335.0h0M135.9 333.2h0M135.3 329.8h0M134.7 328.3h0M134.2 325.8h0M133.4 324.6h0M132.9 321.9h0M132.7 319.9h0M130.6 318.2h0M129.2 318.2h0M126.1 317.9h0M124.9 319.3h0M124.8 320.7h0M124.9 322.9h0M125.0 325.5h0M125.7 326.5h0M127.5 327.0h0M130.1 328.9h0M129.8 330.8h0M130.2 333.5h0M130.1 334.8h0M130.9 337.0h0M130.6 339.2h0M131.1 341.2h0M130.9 344.3h0M130.6 346.0h0M131.0 348.7h0M131.2 350.4h0M133.6 351.2h0M137.8 364.7h0M137.7 366.5h0M138.7 368.2h0M138.9 369.9h0M139.0 373.1h0M139.3 374.2h0M139.0 376.4h0M139.4 379.1h0M139.4 380.6h0M140.1 382.6h0M141.1 384.3h0M142.3 386.3h0M143.4 389.0h0M143.8 390.5h0M144.5 392.4h0M144.2 395.1h0M144.0 397.2h0M144.8 399.0h0M144.8 401.1h0M146.2 401.3h0M147.9 400.2h0M150.2 400.2h0M150.5 398.4h0M150.3 397.2h0M150.6 394.2h0M149.9 392.4h0M147.9 391.3h0M146.7 390.2h0M147.2 388.2h0M149.6 386.5h0M149.2 384.4h0M149.5 382.0h0M149.4 380.5h0M149.5 378.2h0M148.0 376.3h0M146.2 376.2h0M144.7 374.7h0M143.7 373.0h0M142.5 371.7h0M141.6 369.9h0M139.3 367.8h0M138.1 365.7h0M146.1 404.5h0M146.3 406.2h0M146.0 408.0h0M146.3 411.6h0M146.5 413.6h0M147.5 415.1h0M146.9 413.1h0M147.7 410.5h0M147.6 407.9h0M146.9 406.0h0M241.1 204.7h0M247.1 183.1h0M244.4 221.1h0M239.1 206.6h0M247.6 211.7h0M242.5 190.0h0M236.7 196.0h0M240.9 187.3h0M239.7 183.6h0M244.5 213.5h0M238.9 189.5h0M242.2 200.9h0M255.5 230.2h0M250.4 236.6h0M249.1 232.8h0M250.7 235.8h0M171.5 424.3h0M171.2 430.0h0M171.6 426.0h0M171.7 428.4h0M171.9 424.3h0M172.1 430.1h0M171.9 426.3h0M172.0 428.7h0M173.0 424.6h0M172.9 430.9h0M172.9 426.7h0M172.7 428.5h0M174.1 425.8h0M173.4 431.7h0M174.1 427.6h0M173.4 429.5h0M174.4 425.7h0M174.5 431.5h0M174.8 428.2h0M174.6 430.5h0M175.4 426.3h0M175.0 432.2h0M174.9 428.8h0M175.5 430.3h0M175.7 426.8h0M176.3 433.1h0M175.7 429.0h0M176.3 430.9h0M176.6 426.5h0M177.0 432.7h0M176.6 428.9h0M176.6 431.2h0M177.3 426.5h0M177.6 433.1h0M177.8 429.2h0M177.8 431.4h0M178.2 427.2h0M178.0 432.9h0M178.3 428.8h0M178.4 430.9h0M179.0 428.1h0M178.7 432.7h0M179.0 429.3h0M179.2 431.1h0M180.0 428.7h0M180.0 433.6h0M179.6 430.5h0M179.8 432.3h0M180.4 429.1h0M180.6 434.4h0M180.8 430.8h0M180.3 433.1h0M181.3 429.8h0M181.0 434.2h0M181.1 431.9h0M181.6 434.4h0M182.3 431.3h0M182.4 435.2h0M182.2 432.3h0M182.9 431.7h0M182.6 435.7h0M183.1 433.6h0M183.6 432.0h0M183.4 436.5h0M183.1 433.9h0M184.4 432.8h0M183.9 436.7h0M184.1 434.9h0M184.9 433.5h0M185.1 436.9h0M184.7 435.2h0M186.1 434.2h0M185.4 438.0h0M185.6 435.8h0M186.5 434.6h0M186.5 438.3h0M186.3 436.9h0M186.9 435.4h0M187.3 438.4h0M187.2 436.9h0M188.0 436.2h0M188.0 439.5h0M188.2 437.5h0M189.1 436.6h0M188.4 440.1h0M188.7 438.1h0M189.9 437.0h0M189.7 440.0h0M189.7 438.5h0M190.0 437.4h0M189.9 441.0h0M190.0 439.3h0M191.2 438.1h0M191.3 441.6h0M191.3 440.2h0M192.1 439.2h0M191.5 442.3h0M191.6 441.1h0M192.6 439.8h0M192.2 442.6h0M192.7 441.9h0M193.4 439.5h0M193.3 442.8h0M193.3 442.3h0M193.7 440.7h0M194.1 443.2h0M193.8 442.3h0M195.0 440.9h0M194.4 443.3h0M194.4 443.1h0M195.2 441.3h0M195.3 444.3h0M195.4 442.9h0M196.6 441.1h0M196.4 444.1h0M196.6 442.6h0M196.9 440.6h0M197.0 444.0h0M197.2 442.4h0M197.5 441.1h0M197.9 443.2h0M197.7 442.4h0M198.8 440.2h0M198.8 442.8h0M198.9 439.6h0M199.0 442.4h0M200.1 438.8h0M199.7 441.1h0M352.0 415.7h0M351.9 422.1h0M351.6 417.7h0M351.9 419.1h0M352.0 422.1h0M352.4 415.1h0M352.9 422.0h0M352.6 417.5h0M352.6 419.5h0M352.8 421.9h0M353.9 414.9h0M353.5 422.4h0M353.8 417.6h0M353.6 419.5h0M353.4 421.1h0M354.5 415.6h0M354.6 422.2h0M354.1 417.5h0M354.4 419.2h0M354.4 421.0h0M355.0 415.0h0M354.6 421.7h0M354.9 417.5h0M355.0 418.9h0M354.8 420.8h0M355.6 414.6h0M355.4 422.2h0M355.7 416.9h0M355.8 418.7h0M355.5 420.5h0M356.3 414.7h0M356.7 421.6h0M356.8 416.7h0M356.8 419.0h0M356.2 420.6h0M357.3 415.3h0M357.1 421.7h0M357.2 417.2h0M356.9 418.8h0M357.6 420.6h0M357.8 414.3h0M357.7 420.9h0M358.2 416.5h0M357.9 418.5h0M358.8 415.3h0M358.9 420.6h0M358.9 417.4h0M358.8 418.5h0M359.7 415.4h0M359.4 420.3h0M359.3 417.0h0M359.8 419.1h0M360.6 414.9h0M360.1 420.9h0M360.4 417.1h0M360.4 419.0h0M360.6 415.2h0M360.6 420.9h0M360.9 417.3h0M361.1 419.1h0M361.7 415.0h0M362.1 420.9h0M362.1 417.0h0M361.8 419.7h0M362.4 415.2h0M362.2 420.5h0M362.7 417.2h0M362.8 419.5h0M363.3 415.8h0M363.3 421.1h0M363.3 417.6h0M363.4 419.5h0M364.2 416.5h0M364.2 420.7h0M364.2 418.7h0M364.0 420.0h0M364.8 417.5h0M364.5 421.2h0M364.7 419.2h0M365.0 420.9h0M365.9 417.5h0M365.7 422.1h0M365.1 419.4h0M365.1 421.8h0M366.3 418.3h0M366.6 423.2h0M366.0 420.3h0M366.4 423.0h0M366.7 418.9h0M367.2 423.9h0M367.4 421.4h0M367.1 423.2h0M368.0 419.7h0M367.6 425.1h0M367.4 422.0h0M367.4 423.9h0M368.4 420.5h0M368.1 425.0h0M368.4 422.6h0M368.9 424.3h0M369.0 420.3h0M369.1 425.1h0M369.0 422.3h0M369.5 424.7h0M369.8 421.5h0M369.8 425.4h0M369.7 423.4h0M371.0 421.2h0M371.0 425.8h0M370.6 423.3h0M371.5 422.5h0M371.2 425.8h0M371.6 424.1h0M372.3 423.1h0M372.0 427.4h0M372.1 425.0h0M373.3 423.0h0M373.3 431.6h0M372.8 424.9h0M372.7 427.8h0M372.6 429.8h0M373.5 424.2h0M373.4 434.9h0M373.9 425.6h0M373.6 428.4h0M373.9 430.4h0M374.1 431.5h0M373.5 434.3h0M374.7 423.8h0M374.5 437.0h0M374.4 425.9h0M374.1 428.7h0M374.4 430.6h0M374.2 432.2h0M374.2 434.2h0M374.2 436.4h0M375.0 424.5h0M375.3 437.9h0M375.1 426.2h0M375.6 428.1h0M375.0 430.7h0M375.6 432.5h0M375.1 433.9h0M375.1 435.8h0M375.6 424.2h0M375.9 439.4h0M375.9 425.7h0M376.2 428.3h0M376.0 430.2h0M376.2 432.7h0M376.3 434.4h0M375.9 436.0h0M375.9 438.7h0M376.7 425.4h0M376.7 439.0h0M377.1 427.0h0M376.8 429.9h0M376.6 431.6h0M376.7 433.3h0M376.5 435.1h0M377.0 437.8h0M377.8 426.4h0M377.7 439.1h0M377.6 428.9h0M377.4 431.3h0M377.1 433.1h0M377.8 434.8h0M377.6 437.3h0M378.0 428.3h0M378.4 439.2h0M378.4 430.0h0M378.3 432.3h0M378.4 434.0h0M378.4 436.2h0M378.0 438.3h0M378.8 429.9h0M379.0 439.7h0M379.0 431.5h0M378.8 433.2h0M379.3 435.5h0M379.0 437.5h0M380.0 430.7h0M379.5 439.9h0M379.7 433.1h0M380.0 435.4h0M380.0 436.5h0M379.7 439.3h0M380.8 432.6h0M380.2 439.5h0M380.2 434.8h0M380.7 437.0h0M380.5 438.5h0M381.2 435.4h0M381.4 439.9h0M381.2 437.2h0M381.5 438.6h0M382.1 436.7h0M382.0 439.8h0M381.9 438.7h0M382.7 436.6h0M382.5 440.0h0M382.4 438.8h0M383.7 437.2h0M383.4 439.5h0M384.5 437.2h0M384.4 440.0h0M384.8 437.8h0M385.2 439.7h0M385.6 437.7h0M385.7 439.3h0M386.7 438.2h0M386.4 439.8h0M387.5 438.6h0M387.2 440.0h0M388.3 438.8h0M388.4 440.3h0M388.6 439.3h0M388.6 439.7h0M389.7 439.2h0M389.5 440.2h0M390.6 439.7h0M389.9 440.1h0M391.0 439.6h0M391.3 439.8h0M391.7 440.1h0M391.7 439.7h0M392.5 440.1h0M392.6 440.0h0M393.2 439.3h0M393.4 439.8h0M394.2 440.0h0M393.7 439.4h0M394.4 439.9h0M394.4 439.2h0M395.7 439.6h0M395.1 439.7h0M396.4 439.5h0M395.9 439.7h0M396.9 439.5h0M397.4 439.7h0M398.0 439.1h0M397.6 439.4h0M398.1 439.9h0M398.3 439.2h0M399.1 439.1h0M399.5 439.4h0M400.0 439.3h0M399.6 439.2h0M401.0 439.8h0M401.0 439.2h0M401.3 439.0h0M401.5 439.4h0M402.2 439.5h0M402.3 439.4h0M403.2 439.2h0M403.3 439.6h0M403.4 439.4h0M403.8 439.5h0M404.6 439.4h0M404.3 439.9h0M405.1 439.8h0M405.5 439.7h0M406.0 440.1h0M406.0 440.1h0M406.4 439.7h0M406.9 439.3h0M407.8 439.4h0M407.6 439.6h0M408.6 439.8h0M408.5 440.1h0M409.1 440.0h0M408.8 439.8h0M410.0 439.5h0M410.1 439.8h0M410.2 439.6h0M410.7 440.6h0M411.2 440.2h0M411.1 440.5h0M412.1 439.8h0M411.6 440.3h0M412.4 440.4h0M412.6 439.8h0M413.6 439.8h0M413.5 439.6h0M414.6 439.7h0M414.5 439.6h0M415.2 440.3h0M414.9 439.4h0M415.7 439.9h0M415.5 439.8h0M416.2 439.5h0M416.7 439.5h0M417.4 439.0h0M417.5 439.0h0M418.3 439.7h0M418.4 439.2h0M418.6 438.8h0M419.0 439.0h0M419.8 438.2h0M419.5 439.3h0M420.3 438.6h0M419.9 438.3h0M420.8 438.9h0M421.3 438.2h0M422.1 437.8h0M421.8 438.8h0M422.4 438.6h0M422.6 437.7h0M568.3 403.0h0M568.2 409.6h0M568.1 405.4h0M568.2 406.7h0M569.2 402.5h0M569.2 410.4h0M569.2 404.9h0M568.8 407.0h0M568.8 409.1h0M569.6 402.9h0M569.8 410.7h0M570.0 404.5h0M569.6 407.3h0M569.8 409.2h0M570.9 402.7h0M570.4 411.2h0M571.0 404.3h0M570.6 406.7h0M570.3 408.6h0M570.4 410.7h0M571.4 402.5h0M571.2 412.0h0M571.2 404.3h0M571.2 407.0h0M571.4 409.1h0M571.0 411.1h0M572.1 403.1h0M572.2 412.5h0M571.9 405.0h0M571.9 406.5h0M571.8 408.7h0M572.2 410.6h0M573.2 402.6h0M573.0 412.1h0M573.0 405.3h0M573.1 406.6h0M572.7 409.1h0M573.3 410.6h0M573.7 403.5h0M573.9 412.2h0M573.9 405.2h0M574.0 406.8h0M574.0 409.2h0M573.6 410.9h0M574.2 403.8h0M574.5 412.0h0M574.3 405.2h0M574.2 407.3h0M574.3 410.0h0M574.8 411.8h0M575.1 403.8h0M575.4 412.6h0M575.4 406.0h0M574.9 408.0h0M575.4 410.1h0M575.6 404.5h0M575.8 411.6h0M576.3 406.4h0M576.1 407.9h0M576.2 410.7h0M577.0 404.7h0M576.9 412.1h0M576.7 406.4h0M576.9 408.7h0M576.9 410.3h0M577.8 404.7h0M577.8 411.3h0M577.8 407.0h0M577.2 409.0h0M577.2 410.4h0M578.1 404.8h0M578.1 411.9h0M578.3 407.3h0M578.1 409.4h0M579.1 406.4h0M579.3 411.4h0M578.8 407.8h0M579.0 410.5h0M579.5 407.4h0M579.9 411.0h0M579.3 409.3h0M580.0 407.4h0M580.6 410.3h0M580.5 409.7h0M581.0 407.4h0M581.0 410.6h0M581.2 409.5h0M581.6 407.4h0M582.1 410.0h0M582.8 407.9h0M582.3 410.1h0M583.0 407.8h0M583.1 409.5h0M584.5 407.4h0M583.9 410.3h0M585.0 407.9h0M584.8 410.1h0M585.3 409.5h0M586.0 407.2h0M585.9 409.9h0M585.7 409.1h0M586.1 408.0h0M586.4 410.7h0M586.2 409.4h0M586.8 407.7h0M587.4 410.5h0M587.1 410.0h0M588.2 407.7h0M587.6 410.4h0M587.9 410.0h0M588.5 407.5h0M588.8 410.0h0M588.7 409.5h0M589.7 407.1h0M589.3 410.4h0M589.0 409.5h0M590.3 407.0h0M590.1 410.0h0M590.5 409.2h0M591.1 406.3h0M590.8 409.2h0M591.3 409.1h0M591.4 406.7h0M591.7 409.0h0M591.6 408.8h0M592.5 406.2h0M592.6 409.2h0M592.4 408.4h0M593.5 406.5h0M593.4 409.4h0M593.1 408.8h0M594.1 406.4h0M593.7 408.8h0M594.0 408.5h0M594.9 406.3h0M594.4 409.5h0M595.0 408.1h0M595.6 406.5h0M595.2 409.6h0M595.2 408.7h0M596.5 407.7h0M595.9 410.5h0M596.5 409.0h0M596.8 407.6h0M596.6 411.0h0M596.8 409.6h0M598.0 407.9h0M597.4 412.2h0M597.6 410.5h0M598.5 409.3h0M598.3 413.1h0M598.6 411.0h0M599.2 410.2h0M599.4 416.2h0M599.0 412.4h0M599.2 413.8h0M600.0 410.7h0M600.1 418.8h0M600.2 413.0h0M599.8 415.4h0M599.7 416.7h0M600.3 411.7h0M600.9 420.8h0M600.6 414.0h0M600.3 415.5h0M600.8 418.2h0M600.8 419.9h0M601.6 412.3h0M601.8 421.9h0M601.3 414.3h0M601.6 416.3h0M601.1 418.8h0M601.4 420.4h0M602.3 412.5h0M601.9 421.9h0M601.8 414.0h0M602.2 416.4h0M602.3 418.2h0M602.1 420.2h0M602.7 412.5h0M603.1 422.4h0M602.6 414.3h0M603.1 416.1h0M603.2 418.5h0M603.1 420.5h0M603.8 412.6h0M603.4 422.3h0M603.8 414.3h0M603.5 415.8h0M603.7 418.5h0M603.5 419.9h0M604.2 411.9h0M604.5 422.4h0M604.6 414.1h0M604.6 415.9h0M604.7 418.1h0M604.0 420.4h0M604.9 412.2h0M604.8 421.6h0M605.2 414.7h0M604.8 416.8h0M604.8 418.2h0M605.3 420.3h0M605.8 412.6h0M605.7 421.7h0M605.7 414.9h0M606.1 416.6h0M605.5 418.9h0M605.5 420.6h0M606.6 411.9h0M606.8 421.6h0M606.7 414.2h0M606.7 416.4h0M606.4 418.7h0M607.0 420.6h0M607.8 411.9h0M607.8 420.9h0M607.4 413.7h0M607.4 416.3h0M607.6 418.0h0M607.3 419.8h0M608.1 411.6h0M607.9 421.6h0M608.2 413.8h0M607.9 416.0h0M607.9 417.6h0M608.2 420.0h0M609.3 411.8h0M609.3 421.7h0M609.1 413.8h0M608.6 415.3h0M608.5 417.9h0M609.1 419.7h0M609.5 411.2h0M609.4 421.4h0M610.0 413.1h0M609.3 415.0h0M609.5 417.7h0M609.9 419.3h0M610.1 410.9h0M610.1 421.6h0M610.4 413.8h0M610.7 415.6h0M610.4 417.6h0M610.1 418.9h0M611.2 411.3h0M610.9 421.2h0M610.8 413.7h0M611.3 415.8h0M611.5 417.3h0M611.3 419.2h0M612.1 411.7h0M611.6 421.0h0M611.7 413.4h0M611.8 414.9h0M612.2 417.6h0M611.9 418.9h0M613.0 411.4h0M612.3 421.4h0M612.7 413.8h0M612.6 415.5h0M612.4 417.1h0M613.0 419.2h0M613.1 411.5h0M613.1 421.4h0M613.4 413.5h0M613.5 415.6h0M613.4 416.9h0M613.6 418.9h0M614.1 411.5h0M614.3 421.8h0M613.9 413.7h0M614.3 415.5h0M613.9 418.0h0M614.2 419.1h0M614.7 412.2h0M614.7 421.5h0M615.1 414.1h0M615.0 416.0h0M614.5 417.3h0M615.3 420.0h0M615.3 411.5h0M615.4 421.9h0M615.4 414.1h0M616.0 416.1h0M616.0 417.7h0M615.4 419.4h0M616.6 411.6h0M616.8 421.4h0M616.1 414.3h0M616.1 416.0h0M616.1 418.3h0M616.7 420.5h0M616.8 412.5h0M617.2 421.1h0M617.2 414.3h0M617.2 416.5h0M616.8 417.7h0M617.2 420.0h0M617.8 411.7h0M618.1 420.2h0M618.2 414.5h0M617.9 415.8h0M618.0 417.9h0M617.8 419.8h0M619.0 412.2h0M618.5 420.2h0M618.8 414.5h0M618.9 415.8h0M618.5 418.0h0M619.6 411.8h0M619.5 421.0h0M619.6 413.7h0M619.1 415.8h0M619.6 418.3h0M620.2 412.1h0M620.1 420.5h0M620.3 414.6h0M620.3 416.5h0M620.5 418.5h0M621.1 411.9h0M621.0 420.5h0M620.8 414.7h0M620.6 416.8h0M620.9 418.6h0M621.5 412.4h0M621.5 419.7h0M621.3 414.6h0M622.0 416.8h0M622.0 418.9h0M622.7 413.4h0M622.6 419.4h0M622.2 414.8h0M622.0 416.6h0M622.7 419.3h0M623.0 413.4h0M623.4 419.8h0M623.4 415.2h0M622.8 417.5h0M623.8 413.6h0M623.8 419.2h0M624.3 415.1h0M623.9 417.6h0M624.7 414.1h0M624.6 419.3h0M624.8 416.2h0M624.3 417.4h0M625.2 414.6h0M625.0 418.1h0M625.6 416.6h0M625.9 414.7h0M626.3 418.0h0M626.3 417.0h0M626.7 415.1h0M626.5 417.5h0M627.4 415.7h0M628.0 417.0h0M628.5 416.6h0M628.5 416.6h0M646.6 414.2h0M646.5 416.4h0M647.4 414.6h0M647.2 417.2h0M648.7 415.3h0M648.1 417.9h0M648.8 415.0h0M648.9 417.9h0M649.2 417.3h0M650.0 415.0h0M650.1 418.0h0M650.1 416.9h0M650.8 415.1h0M650.8 418.5h0M650.7 417.1h0M650.9 415.4h0M651.6 418.4h0M651.4 417.8h0M652.2 415.7h0M651.8 418.9h0M652.4 417.9h0M652.9 416.3h0M652.6 419.5h0M652.4 418.6h0M653.3 417.0h0M653.4 420.7h0M653.3 418.9h0M654.1 416.8h0M654.3 420.6h0M654.1 419.2h0M654.9 417.1h0M655.3 420.8h0M654.8 418.9h0M655.7 417.1h0M655.9 420.6h0M656.1 418.8h0M656.7 417.7h0M656.3 419.5h0M656.5 418.9h0M657.3 417.6h0M657.0 419.0h0M658.0 417.1h0M657.8 418.7h0M658.5 416.9h0M658.7 418.5h0M659.9 417.4h0M659.2 418.0h0M660.5 416.9h0M660.6 418.5h0M661.3 415.4h0M661.4 417.9h0M661.6 414.4h0M662.1 417.4h0M661.5 416.5h0M662.9 413.1h0M662.7 416.9h0M662.5 415.0h0M663.1 410.7h0M663.2 416.8h0M663.7 412.5h0M663.0 414.0h0M663.4 416.5h0M663.7 407.9h0M664.2 417.1h0M663.8 409.9h0M664.1 412.0h0M663.8 414.2h0M664.4 416.1h0M665.1 405.1h0M665.1 416.6h0M664.6 407.4h0M665.1 408.9h0M664.6 410.8h0M664.8 412.9h0M664.6 415.5h0M665.6 406.0h0M665.5 417.2h0M665.2 408.0h0M665.3 409.6h0M665.6 412.0h0M665.5 414.1h0M665.6 415.3h0M666.6 406.0h0M666.7 417.2h0M666.1 408.8h0M666.2 410.2h0M666.2 412.5h0M665.9 414.2h0M666.0 416.6h0M666.7 407.1h0M666.9 417.4h0M667.1 409.2h0M666.8 410.8h0M666.7 413.5h0M666.8 414.7h0M667.8 407.9h0M668.1 417.1h0M667.6 409.4h0M667.9 411.7h0M667.7 414.2h0M667.9 416.1h0M668.9 408.3h0M668.9 417.5h0M668.2 410.9h0M668.2 412.0h0M668.4 414.3h0M668.9 416.9h0M669.2 409.3h0M669.6 418.0h0M669.4 411.3h0M669.0 413.0h0M669.4 415.4h0M670.3 410.3h0M670.4 417.2h0M669.7 412.3h0M670.1 413.5h0M670.2 415.6h0M670.6 410.3h0M670.8 417.4h0M670.5 412.7h0M670.9 414.4h0M670.9 416.7h0M671.2 411.0h0M671.7 417.3h0M671.7 412.7h0M671.9 415.3h0M672.1 411.5h0M672.7 416.6h0M672.2 414.1h0M672.6 415.3h0M673.2 412.0h0M673.2 416.9h0M672.8 413.9h0M673.6 412.4h0M673.4 416.3h0M673.7 414.6h0M674.2 413.1h0M674.9 416.8h0M674.4 415.2h0M675.2 412.3h0M675.3 416.1h0M675.4 414.3h0M675.9 412.8h0M676.3 416.8h0M676.2 414.5h0M677.0 412.5h0M676.6 416.7h0M676.6 413.8h0M677.8 412.0h0M677.8 416.8h0M677.6 413.6h0M677.2 415.9h0M678.5 411.5h0M678.0 415.9h0M678.0 413.9h0M677.9 415.5h0M678.9 411.8h0M679.4 415.6h0M678.7 414.1h0M680.2 411.2h0M679.7 415.7h0M679.7 413.4h0M680.5 411.2h0M680.2 414.8h0M680.3 413.0h0M681.4 411.3h0M681.1 414.3h0M681.5 412.9h0M682.0 410.4h0M682.4 412.8h0M796.6 400.1h0M797.2 404.1h0M797.2 402.2h0M798.0 401.4h0M797.4 407.0h0M797.5 403.3h0M798.0 405.4h0M798.3 401.3h0M798.6 409.4h0M798.2 403.4h0M798.6 405.4h0M798.6 407.5h0M799.1 402.1h0M799.3 410.6h0M798.9 404.4h0M799.0 406.0h0M799.4 408.4h0M800.1 403.0h0M799.8 411.2h0M800.1 404.4h0M799.7 406.4h0M800.2 409.0h0M800.2 411.1h0M801.0 402.9h0M800.6 412.7h0M800.4 405.2h0M800.4 406.6h0M800.8 408.7h0M801.1 411.5h0M801.5 403.0h0M801.2 413.1h0M801.5 405.2h0M801.7 407.3h0M801.7 408.9h0M801.2 411.2h0M802.2 403.6h0M802.4 413.4h0M802.1 405.8h0M802.4 408.1h0M802.1 409.8h0M802.6 412.3h0M803.1 404.5h0M803.0 414.6h0M802.8 406.5h0M803.4 409.3h0M802.7 410.9h0M803.1 412.7h0M803.4 406.3h0M804.0 415.2h0M803.4 407.9h0M803.4 410.5h0M803.4 411.8h0M804.0 413.7h0M804.2 406.7h0M804.2 416.1h0M804.8 408.8h0M804.2 411.4h0M804.4 413.0h0M804.2 414.9h0M805.6 408.5h0M805.1 417.4h0M805.6 411.3h0M805.2 413.3h0M805.3 414.7h0M806.0 410.8h0M806.2 417.9h0M805.8 413.1h0M805.7 414.9h0M805.9 416.4h0M806.6 412.3h0M807.1 419.0h0M807.0 414.2h0M806.5 416.6h0M806.6 418.0h0M807.4 414.4h0M807.8 420.6h0M807.1 416.3h0M807.6 418.5h0M808.6 415.5h0M808.5 421.8h0M808.1 417.5h0M808.1 419.5h0M808.9 416.2h0M808.8 422.8h0M808.9 418.7h0M809.3 420.8h0M809.5 418.2h0M810.0 423.9h0M809.9 420.0h0M810.0 421.5h0M810.6 419.0h0M810.8 424.0h0M810.5 420.9h0M810.8 422.9h0M811.5 420.7h0M811.6 424.9h0M811.6 422.6h0M811.4 424.5h0M811.6 421.7h0M812.0 426.1h0M811.9 423.7h0M812.2 425.7h0M812.5 421.9h0M812.5 426.2h0M812.6 423.5h0M813.0 425.8h0M813.2 422.2h0M813.7 426.8h0M813.5 424.6h0M814.5 423.4h0M814.1 427.4h0M814.6 424.9h0M815.3 422.8h0M814.8 427.3h0M815.1 424.2h0M815.8 422.5h0M815.8 426.6h0M815.7 424.5h0M816.6 421.7h0M816.4 426.4h0M816.9 424.2h0M816.2 426.4h0M816.9 421.9h0M817.2 426.8h0M817.2 423.4h0M817.3 426.1h0M818.2 421.4h0M817.8 426.8h0M818.2 423.3h0M818.3 426.1h0M818.7 421.3h0M818.9 426.9h0M818.5 423.2h0M818.6 425.6h0M819.2 421.2h0M819.5 426.6h0M819.2 423.7h0M819.9 425.3h0M820.5 421.0h0M820.6 426.3h0M820.5 423.6h0M820.1 425.7h0M820.8 421.2h0M821.0 426.5h0M821.3 424.1h0M821.8 422.5h0M821.8 425.5h0M821.9 424.4h0M822.4 422.5h0M822.3 425.5h0M822.4 424.5h0M823.2 422.4h0M822.9 425.4h0M823.4 425.1h0M823.8 422.6h0M824.0 425.2h0M824.1 425.3h0M824.5 423.0h0M824.9 425.8h0M824.9 425.1h0M825.3 423.3h0M825.8 425.2h0M825.9 424.9h0M825.9 422.5h0M826.5 425.8h0M826.0 424.9h0M827.1 423.3h0M826.9 425.9h0M826.8 424.5h0M827.5 422.9h0M827.8 425.2h0M828.2 423.0h0M828.2 425.0h0M829.1 423.5h0M829.0 425.1h0M830.0 424.3h0M830.0 425.5h0M830.7 423.7h0M830.8 424.5h0M831.2 423.7h0M831.7 425.2h0M832.2 424.0h0M832.2 424.6h0M833.2 424.0h0M832.7 425.3h0M833.8 423.6h0M834.0 425.4h0M834.4 424.1h0M834.8 425.3h0M835.2 423.6h0M835.3 425.8h0M836.2 424.0h0M835.7 425.7h0M837.0 423.6h0M836.8 426.3h0M836.6 425.8h0M837.5 423.0h0M837.2 425.9h0M837.8 425.4h0M837.9 422.9h0M838.2 426.7h0M838.1 425.5h0M838.9 423.5h0M839.3 427.4h0M839.0 425.3h0M839.7 424.0h0M840.0 427.7h0M839.6 425.8h0M840.4 424.8h0M840.5 428.3h0M840.4 426.7h0M841.0 425.0h0M840.9 428.8h0M840.9 427.1h0M841.7 425.0h0M841.6 429.5h0M842.2 427.5h0M843.1 425.7h0M842.8 430.1h0M842.4 427.7h0M843.4 425.1h0M843.7 429.9h0M843.4 427.0h0M844.5 425.7h0M844.3 430.0h0M843.9 427.0h0M844.7 425.0h0M845.2 429.6h0M844.7 427.2h0M845.5 425.7h0M845.9 429.8h0M845.6 428.0h0M846.4 425.1h0M846.3 428.8h0M846.9 427.7h0M847.4 424.4h0M847.0 428.4h0M847.1 427.0h0M847.6 424.4h0M848.1 428.0h0M848.0 426.6h0M848.8 423.9h0M849.1 428.2h0M848.6 425.8h0M849.9 423.9h0M849.8 427.9h0M849.2 425.2h0M850.2 423.8h0M849.9 427.9h0M850.5 425.6h0M850.6 424.0h0M850.9 427.7h0M851.1 425.9h0M851.7 424.2h0M852.1 427.8h0M851.8 425.6h0M852.4 423.6h0M852.8 427.6h0M852.7 426.1h0M853.6 424.1h0M853.1 427.5h0M853.1 426.0h0M853.7 424.1h0M854.0 427.2h0M854.3 425.3h0M855.1 423.8h0M854.5 427.9h0M854.8 426.0h0M855.6 423.3h0M855.8 427.5h0M855.7 425.0h0M856.1 422.9h0M856.5 428.0h0M856.4 425.0h0M856.4 427.4h0M856.7 423.1h0M857.2 428.0h0M857.1 424.9h0M856.9 427.5h0M858.1 423.7h0M857.7 428.5h0M858.0 425.4h0M857.7 427.5h0M858.4 423.7h0M858.5 428.2h0M858.7 424.9h0M858.6 426.8h0M859.6 423.3h0M859.4 428.3h0M859.4 425.1h0M859.0 427.6h0M859.6 423.3h0M859.7 429.2h0M860.3 424.9h0M860.0 427.3h0M860.9 423.6h0M860.6 429.4h0M860.5 425.0h0M861.0 427.0h0M861.2 423.3h0M861.4 428.5h0M861.8 425.3h0M861.7 427.1h0M862.6 423.0h0M862.6 428.8h0M862.6 425.6h0M862.4 427.3h0M863.3 423.2h0M862.7 428.9h0M863.2 425.4h0M863.2 427.0h0M863.7 423.5h0M864.1 428.8h0M863.5 425.4h0M863.8 427.1h0M864.2 423.1h0M864.5 428.2h0M864.3 425.3h0M864.5 427.7h0M865.3 423.4h0M865.6 428.1h0M865.6 426.2h0M865.7 424.2h0M866.4 428.2h0M866.0 425.9h0M866.4 424.1h0M866.4 428.1h0M866.9 426.5h0M867.9 425.0h0M867.4 428.8h0M867.6 426.8h0M868.5 425.2h0M868.1 428.6h0M868.1 427.4h0M868.8 425.5h0M868.7 427.9h0M869.0 426.8h0M869.8 424.7h0M870.0 428.5h0M869.9 427.6h0M870.9 425.4h0M870.7 427.8h0M870.1 427.1h0M871.6 425.1h0M871.3 427.7h0M871.2 427.7h0M872.1 425.7h0M871.6 427.9h0M871.7 427.7h0M872.4 425.9h0M872.6 428.3h0M873.5 425.5h0M873.9 427.6h0M874.4 425.4h0M874.5 428.0h0M874.7 426.1h0M874.8 426.9h0M875.6 426.1h0M876.1 427.5h0M876.9 425.9h0M876.6 426.7h0M877.4 425.7h0M877.1 427.4h0M877.8 425.1h0M877.7 426.7h0M878.8 425.6h0M878.5 427.0h0M879.6 425.2h0M879.4 427.1h0M879.9 424.5h0M880.2 426.9h0M881.2 424.5h0M881.3 427.0h0M881.4 424.5h0M881.7 427.2h0M882.0 426.2h0M882.6 424.5h0M882.5 427.4h0M882.8 426.3h0M883.0 423.4h0M882.9 427.4h0M882.9 426.0h0M883.9 423.5h0M884.0 427.8h0M883.8 425.4h0M884.6 423.3h0M885.1 427.5h0M884.7 425.2h0M885.1 423.0h0M885.8 427.2h0M885.2 425.5h0M885.9 423.2h0M886.1 426.6h0M886.4 425.4h0M887.0 422.7h0M887.1 426.7h0M887.1 424.6h0M888.1 422.5h0M887.5 426.5h0M887.5 424.6h0M888.6 423.5h0M888.4 426.2h0M888.6 424.8h0M889.2 423.4h0M889.2 426.1h0M888.9 425.2h0M890.4 424.0h0M889.7 427.1h0M890.0 425.2h0M890.9 423.9h0M891.0 427.5h0M891.1 426.2h0M891.5 423.7h0M891.5 428.1h0M891.6 426.3h0M892.3 424.8h0M891.9 429.4h0M892.5 425.9h0M892.1 427.8h0M893.1 424.7h0M892.9 430.0h0M892.9 426.7h0M892.8 429.0h0M893.7 424.2h0M893.4 430.5h0M894.0 426.9h0M893.5 429.1h0M894.7 424.6h0M894.4 431.0h0M894.1 426.5h0M894.4 429.3h0M895.6 425.0h0M895.6 431.7h0M895.5 427.3h0M895.6 429.3h0M896.4 425.6h0M895.8 431.3h0M896.0 427.4h0M895.9 429.5h0M896.8 425.7h0M896.6 430.5h0M896.8 427.9h0M896.9 429.6h0M897.5 426.2h0M897.7 430.0h0M897.7 428.4h0M898.0 427.3h0M898.3 429.3h0M898.8 427.4h0M899.2 429.8h0M899.7 428.4h0M899.5 429.6h0M900.4 428.6h0M900.4 430.1h0M901.4 429.2h0M901.0 430.2h0M902.1 430.3h0M902.1 430.3h0M902.6 430.1h0M902.6 430.1h0M903.9 430.6h0M903.6 431.1h0M904.5 430.1h0M904.1 430.0h0M905.2 430.4h0M905.0 430.1h0M156.0 396.0h0M157.4 396.0h0M157.2 396.7h0M158.3 397.2h0M158.8 397.1h0M159.1 397.5h0M159.4 398.8h0M159.9 399.3h0M159.6 399.7h0M160.6 400.0h0M161.0 400.5h0M160.9 401.5h0M161.5 401.7h0M161.6 402.0h0M162.4 402.2h0M162.1 402.9h0M163.0 403.8h0M162.8 404.2h0M163.3 405.0h0M163.3 405.8h0M164.1 405.9h0M164.3 407.1h0M164.9 407.2h0M164.8 408.3h0M165.2 408.3h0M165.4 409.2h0M165.9 409.2h0M165.9 409.8h0M166.2 410.2h0M166.9 411.5h0M166.9 411.7h0M166.8 412.4h0M167.3 413.2h0M168.1 413.3h0M168.0 413.7h0M169.0 414.7h0M169.0 414.9h0M169.7 415.2h0M170.1 415.8h0M170.4 416.0h0M171.2 416.2h0M171.8 416.8h0M172.1 417.7h0M171.9 418.1h0M172.4 418.1h0M172.3 419.6h0M172.8 420.1h0M172.8 420.1h0M173.3 421.2h0M173.3 421.4h0M173.9 422.5h0M173.5 422.6h0M174.2 423.7h0M174.4 424.2h0M174.0 424.5h0M156.6 395.3h0M157.8 395.0h0M157.3 396.8h0M158.7 395.7h0M158.2 396.5h0M160.0 397.0h0M159.5 396.9h0M159.5 397.7h0M159.0 398.4h0M199.9 411.4h0M200.3 411.9h0M200.1 412.7h0M200.0 413.4h0M200.0 414.4h0M200.2 415.1h0M199.6 416.1h0M200.1 416.4h0M199.8 417.5h0M199.5 418.2h0M199.8 419.1h0M199.7 419.3h0M199.7 420.1h0M199.6 421.0h0M199.4 421.9h0M199.6 422.3h0M199.4 423.2h0M199.4 423.8h0M199.5 424.8h0M199.3 425.4h0M199.6 426.4h0M199.2 426.9h0M199.5 427.3h0M199.6 428.6h0M199.3 429.2h0M199.6 430.1h0M199.6 430.2h0M199.4 431.4h0M199.8 432.3h0M199.8 432.5h0M199.8 433.5h0M199.9 434.3h0M199.6 435.0h0M199.9 435.9h0M200.0 436.6h0M200.0 437.5h0M199.8 438.1h0M204.1 416.7h0M204.1 417.2h0M203.7 418.0h0M203.7 419.2h0M203.6 419.3h0M203.7 420.3h0M203.8 421.0h0M203.8 421.8h0M203.8 422.7h0M203.9 423.3h0M203.7 424.0h0M203.6 424.9h0M203.8 425.7h0M204.0 426.3h0M203.7 426.8h0M203.8 428.3h0M203.6 429.0h0M203.8 429.5h0M212.8 394.7h0M213.5 394.3h0M213.6 396.1h0M212.7 396.7h0M212.7 396.9h0M212.5 396.8h0M212.7 398.2h0M214.0 398.4h0M213.6 398.3h0M213.0 399.9h0M213.4 400.5h0M213.1 400.2h0M212.8 401.4h0M213.6 401.8h0M213.1 401.3h0M213.1 402.1h0M213.7 403.3h0M212.8 402.7h0M212.3 404.2h0M213.2 404.8h0M213.3 404.8h0M212.8 406.3h0M212.1 405.3h0M212.6 406.0h0M213.1 407.0h0M225.8 384.4h0M225.5 384.5h0M224.4 384.9h0M225.6 385.9h0M226.3 385.4h0M225.1 386.7h0M226.6 386.6h0M225.0 387.4h0M225.0 387.1h0M225.8 387.4h0M225.6 387.9h0M224.8 388.1h0M224.7 389.0h0M225.4 388.7h0M226.2 390.3h0M224.2 389.2h0M226.1 390.6h0M225.0 390.1h0M225.4 392.0h0M224.4 391.2h0M224.8 391.7h0M224.3 392.5h0M224.0 392.7h0M224.3 393.9h0M224.6 395.1h0M226.0 394.2h0M225.1 393.6h0M225.7 394.9h0M224.3 395.4h0M224.9 396.5h0M224.8 397.1h0M225.3 397.4h0M223.4 397.2h0M224.9 397.7h0M223.7 398.6h0M223.9 397.3h0M223.4 399.4h0M224.7 400.4h0M224.4 398.5h0M224.4 399.5h0M223.8 399.4h0M224.5 400.6h0M223.2 401.6h0M224.3 400.6h0M223.6 401.8h0M223.3 402.3h0M224.2 403.3h0M223.9 404.7h0M224.1 403.3h0M223.5 404.4h0M223.4 404.8h0M223.4 405.3h0M223.5 406.4h0M224.3 406.6h0M222.7 406.5h0M224.1 406.7h0M223.5 407.1h0M224.2 408.0h0M222.8 407.3h0M223.6 409.4h0M222.5 409.3h0M226.9 356.7h0M226.8 356.9h0M227.1 357.8h0M227.4 358.9h0M227.3 357.7h0M226.9 358.3h0M226.7 360.1h0M227.3 360.7h0M227.6 360.0h0M227.7 360.8h0M226.5 361.4h0M228.1 362.0h0M226.8 362.0h0M227.2 363.2h0M227.9 363.3h0M227.8 363.4h0M227.1 363.2h0M226.5 365.3h0M226.2 364.1h0M225.7 364.5h0M226.6 365.8h0M227.4 366.4h0M226.1 365.5h0M225.6 366.6h0M225.9 367.8h0M227.2 368.3h0M225.4 368.3h0M226.1 367.5h0M226.9 369.9h0M227.2 369.6h0M226.8 369.2h0M227.0 369.8h0M225.9 372.0h0M225.5 372.4h0M225.3 372.6h0M224.5 371.8h0M225.9 372.6h0M224.5 372.7h0M224.9 373.0h0M224.4 373.7h0M226.1 374.5h0M226.4 375.3h0M224.6 374.1h0M224.8 376.0h0M244.2 196.3h0M244.0 196.1h0M246.0 197.1h0M244.6 198.3h0M245.8 199.1h0M245.5 198.4h0M243.8 198.9h0M245.8 198.4h0M245.6 199.5h0M245.6 200.4h0M245.0 199.3h0M245.6 199.7h0M245.9 199.9h0M246.6 201.0h0M246.7 201.9h0M246.4 203.2h0M244.4 201.8h0M244.7 204.5h0M244.8 204.8h0M246.0 203.0h0M245.3 205.4h0M246.2 203.5h0M244.9 203.9h0M245.5 204.1h0M245.9 206.3h0M244.0 206.6h0M246.0 207.1h0M245.5 207.5h0M246.3 208.2h0M245.3 208.9h0M244.5 208.8h0M244.9 209.1h0M245.0 207.8h0M245.1 208.9h0M245.1 210.5h0M245.5 211.1h0M246.1 209.6h0M244.3 211.9h0M244.2 211.8h0M245.3 212.6h0M244.0 212.0h0M243.9 213.0h0M244.3 213.8h0M244.9 213.7h0M245.2 212.3h0M244.9 215.1h0M244.3 214.8h0M246.5 214.1h0M245.8 215.1h0M244.4 214.6h0M245.5 216.0h0M245.7 215.7h0M245.6 218.1h0M244.7 217.5h0M245.2 217.2h0M245.5 219.0h0M244.0 217.7h0M244.7 218.2h0M246.3 219.5h0M243.9 220.0h0M244.7 220.7h0M246.4 219.8h0M244.6 221.1h0M244.3 221.1h0M244.7 221.3h0M245.8 222.5h0M245.9 221.9h0M244.3 223.1h0M245.7 223.2h0M245.0 222.6h0M245.7 223.2h0M244.2 223.7h0M246.3 224.8h0M245.2 223.7h0M271.3 244.2h0M272.3 245.3h0M271.8 244.2h0M271.3 244.8h0M271.7 245.5h0M271.9 245.5h0M272.9 247.1h0M272.5 246.9h0M273.3 246.7h0M272.5 248.5h0M272.5 249.4h0M272.9 247.9h0M273.7 249.3h0M274.2 249.9h0M272.4 249.8h0M273.0 251.1h0M272.4 250.7h0M274.5 251.7h0M273.5 251.8h0M273.1 251.3h0M272.8 253.1h0M274.1 254.1h0M273.8 253.1h0M273.8 254.3h0M274.0 253.5h0M274.2 254.4h0M274.6 255.7h0M273.8 255.7h0M275.2 256.1h0M274.4 255.9h0M275.9 256.6h0M274.6 258.0h0M274.0 258.3h0M275.4 257.7h0M275.7 258.3h0M275.9 259.7h0M275.7 260.1h0M275.0 260.3h0M275.9 259.5h0M276.7 260.4h0M275.2 261.5h0M276.7 261.1h0M277.1 261.7h0M276.1 262.0h0M276.7 262.5h0M276.2 263.1h0M275.5 264.5h0M263.2 225.7h0M263.8 226.7h0M264.0 228.0h0M262.2 226.0h0M263.6 228.8h0M264.1 227.5h0M264.2 228.0h0M263.9 228.3h0M263.8 228.9h0M263.5 228.2h0M264.6 230.8h0M263.6 228.8h0M262.9 229.6h0M264.8 231.5h0M263.7 230.3h0M262.9 233.0h0M262.9 232.1h0M262.8 231.7h0M264.8 232.5h0M262.9 231.9h0M264.8 233.9h0M262.1 233.3h0M264.8 234.7h0M263.9 234.9h0M263.3 234.6h0M264.3 234.8h0M264.0 236.8h0M423.4 408.2h0M423.3 408.5h0M423.3 409.5h0M423.1 409.8h0M423.2 411.1h0M423.3 412.0h0M423.0 412.5h0M422.9 412.9h0M422.8 414.0h0M423.0 414.9h0M422.9 415.4h0M423.2 416.1h0M423.1 416.6h0M422.9 417.5h0M422.9 418.6h0M422.9 418.9h0M422.9 419.5h0M422.9 420.8h0M422.7 420.8h0M422.8 421.8h0M422.9 422.6h0M422.5 423.4h0M422.6 424.2h0M422.5 425.0h0M422.5 425.8h0M422.4 426.6h0M422.9 427.0h0M422.4 427.9h0M422.6 428.6h0M422.7 429.4h0M422.5 430.1h0M422.6 430.8h0M422.5 431.2h0M422.4 432.3h0M422.7 432.8h0M425.3 410.9h0M425.9 411.8h0M426.2 412.1h0M426.7 413.0h0M427.4 413.8h0M427.4 414.1h0M428.1 414.8h0M428.3 415.7h0M428.8 416.5h0M429.4 417.4h0M429.8 417.6h0M429.9 418.3h0M430.3 418.9h0M430.9 419.7h0M431.3 420.6h0M431.8 421.1h0M431.8 421.6h0M432.5 422.7h0M432.8 423.1h0M433.2 423.8h0M433.3 424.6h0M433.5 425.3h0M434.0 426.2h0M434.0 427.3h0M434.0 427.5h0M434.4 428.5h0M434.3 429.0h0M434.5 430.1h0M433.9 431.7h0M434.3 432.0h0M435.0 432.8h0M435.6 433.1h0M436.2 433.6h0M436.9 433.4h0M437.8 434.0h0M438.1 434.5h0M438.3 434.6h0M439.3 435.0h0M440.3 434.9h0M440.8 435.2h0M441.8 435.7h0M442.2 435.5h0M442.7 436.2h0M443.4 435.8h0M443.9 436.3h0M445.2 436.6h0M445.4 436.9h0M446.2 437.0h0M446.6 436.8h0M447.3 437.1h0M447.9 437.7h0M448.3 437.5h0M449.4 437.9h0M450.3 438.1h0M450.2 438.0h0M451.0 438.7h0M452.2 438.9h0M452.5 439.0h0M453.2 439.3h0M453.6 439.4h0M454.2 439.4h0M455.2 439.4h0M456.2 439.4h0M456.8 439.4h0M457.3 439.7h0M458.2 440.0h0M458.3 440.0h0M459.1 439.6h0M460.2 439.8h0M460.0 439.6h0M460.5 440.1h0M460.9 440.1h0M461.7 440.3h0M462.8 439.7h0M462.8 440.2h0M463.6 439.8h0M464.6 439.6h0M465.1 439.9h0M466.3 439.9h0M465.9 439.7h0M466.7 439.8h0M467.8 440.1h0M467.9 439.7h0M468.9 440.1h0M469.2 440.6h0M469.5 440.2h0M470.0 440.2h0M471.1 440.6h0M472.2 440.4h0M472.4 441.2h0M473.1 440.7h0M473.6 441.1h0M474.3 441.2h0M475.3 442.0h0M474.9 442.2h0M475.5 442.7h0M476.2 443.0h0M477.3 442.8h0M477.3 442.7h0M478.1 442.9h0M479.3 442.7h0M479.4 443.5h0M480.6 443.2h0M480.9 443.3h0M481.1 443.6h0M482.4 443.6h0M482.8 443.9h0M483.1 443.8h0M483.8 444.1h0M484.3 443.6h0M485.1 443.4h0M485.5 443.8h0M485.8 443.9h0M487.2 443.5h0M487.9 443.6h0M488.1 444.3h0M489.1 444.0h0M489.2 444.3h0M490.2 443.8h0M490.8 444.3h0M491.7 443.9h0M492.5 444.2h0M493.2 444.0h0M492.8 444.4h0M494.2 444.0h0M494.6 444.0h0M495.0 444.4h0M496.4 444.0h0M496.4 444.1h0M497.3 444.1h0M497.4 444.0h0M498.3 444.0h0M499.5 444.4h0M499.6 444.3h0M500.5 443.9h0M501.4 444.1h0M501.4 444.5h0M502.2 443.7h0M502.5 444.3h0M503.6 444.6h0M503.4 444.0h0M504.8 444.0h0M504.8 444.3h0M506.0 444.1h0M506.7 444.3h0M507.5 443.7h0M508.0 444.1h0M508.4 444.1h0M509.0 444.4h0M509.8 444.1h0M510.5 444.1h0M511.1 443.8h0M511.2 443.7h0M512.0 443.3h0M512.9 443.5h0M512.9 443.4h0M513.8 442.8h0M514.8 443.3h0M514.9 442.9h0M515.5 442.4h0M515.7 442.4h0M517.1 441.7h0M517.1 441.8h0M517.6 441.3h0M517.7 440.7h0M518.1 439.7h0M518.4 440.0h0M519.0 439.5h0M519.3 438.1h0M520.1 438.0h0M520.2 437.7h0M520.5 436.9h0M520.7 436.6h0M521.0 435.7h0M521.6 435.5h0M521.7 435.4h0M522.6 434.4h0M522.7 433.6h0M522.7 433.4h0M522.7 432.9h0M523.9 431.7h0M523.8 431.5h0M523.8 430.5h0M524.1 430.9h0M524.7 429.8h0M525.1 429.5h0M525.0 428.5h0M525.5 428.4h0M525.5 426.9h0M525.7 427.0h0M526.0 425.8h0M526.1 425.6h0M526.7 425.2h0M526.4 424.1h0M563.1 373.0h0M563.0 373.7h0M563.1 374.6h0M563.4 374.6h0M563.9 375.7h0M563.5 375.4h0M563.7 376.8h0M564.0 376.5h0M564.6 377.0h0M564.2 378.4h0M564.9 378.7h0M565.4 379.2h0M564.9 379.7h0M565.5 380.0h0M565.1 380.7h0M566.0 381.9h0M566.1 382.0h0M565.9 382.6h0M565.9 383.0h0M566.3 383.6h0M567.0 383.9h0M567.7 384.6h0M567.7 385.4h0M567.9 385.9h0M568.4 386.4h0M568.4 386.9h0M568.6 387.7h0M568.6 388.2h0M569.3 388.0h0M569.6 389.1h0M569.3 389.9h0M569.9 390.2h0M569.7 390.7h0M569.7 391.0h0M569.9 391.8h0M570.7 392.5h0M570.4 393.2h0M570.5 394.2h0M570.7 393.9h0M570.1 395.5h0M570.1 395.3h0M570.4 396.2h0M570.6 397.1h0M570.1 397.0h0M570.7 397.6h0M570.1 398.4h0M570.3 399.2h0M570.5 399.4h0M570.2 400.7h0M570.2 401.0h0M576.3 385.9h0M576.4 387.1h0M576.2 387.7h0M576.1 388.1h0M576.9 388.7h0M576.4 388.8h0M576.9 390.0h0M576.2 390.3h0M576.6 390.8h0M576.2 391.9h0M576.5 392.0h0M576.6 393.0h0M576.1 393.8h0M576.5 394.4h0M576.3 394.9h0M576.5 395.5h0M576.4 396.3h0M576.4 396.9h0M577.1 397.5h0M576.7 398.7h0M576.8 398.4h0M577.0 399.6h0M576.6 400.3h0M577.2 400.7h0M577.3 401.4h0M577.1 401.9h0M577.3 402.4h0M577.4 403.6h0M576.8 403.7h0M540.8 366.4h0M541.0 367.0h0M541.2 367.3h0M541.0 367.7h0M541.1 368.1h0M541.3 369.6h0M541.1 369.5h0M540.7 370.7h0M540.9 371.0h0M541.2 371.4h0M541.2 372.8h0M541.2 373.2h0M540.9 373.5h0M541.3 374.0h0M541.4 375.1h0M541.0 375.6h0M540.7 376.1h0M541.2 377.2h0M540.8 377.9h0M541.4 378.1h0M540.7 378.8h0M540.9 378.9h0M540.4 379.9h0M540.8 380.9h0M540.5 381.3h0M540.8 382.4h0M540.8 382.3h0M540.5 383.6h0M541.1 383.6h0M541.0 384.4h0M541.2 385.1h0M541.2 386.0h0M541.2 386.7h0M540.7 387.5h0M541.0 387.9h0M540.9 388.6h0M541.3 389.1h0M541.0 389.1h0M541.3 390.3h0M540.9 391.0h0M540.5 391.3h0M541.4 392.1h0M540.8 393.2h0M541.0 392.9h0M540.8 394.1h0M540.5 394.5h0M541.0 395.6h0M541.0 396.2h0M540.9 396.2h0M541.2 397.2h0M540.4 397.7h0M540.5 398.7h0M540.7 399.3h0M540.7 400.2h0M541.2 400.7h0M540.5 400.8h0M540.6 401.6h0M540.4 402.3h0M540.8 402.6h0M540.8 404.1h0M541.0 404.4h0M540.7 404.8h0M630.4 389.1h0M630.4 389.6h0M630.5 390.0h0M630.4 391.2h0M630.5 391.7h0M630.3 392.2h0M629.5 393.2h0M629.3 393.6h0M629.9 394.2h0M629.3 394.5h0M629.8 395.3h0M629.7 396.0h0M628.9 396.5h0M628.6 397.3h0M629.1 398.0h0M628.6 398.7h0M629.1 399.1h0M628.6 399.7h0M628.5 400.2h0M628.5 400.6h0M628.5 401.6h0M627.5 402.2h0M627.6 402.7h0M627.8 403.7h0M627.3 403.6h0M627.3 404.8h0M626.7 405.4h0M627.4 406.2h0M627.3 406.5h0M626.6 407.4h0M626.8 407.6h0M626.4 408.7h0M626.9 409.4h0M626.9 410.0h0M626.6 411.1h0M626.9 411.2h0M626.5 411.7h0M626.3 412.2h0M626.5 413.0h0M627.0 413.9h0M626.6 414.2h0M626.7 415.0h0M627.4 415.5h0M627.6 415.9h0M627.6 417.2h0M627.5 416.9h0M627.5 417.7h0M902.6 454.4h0M903.6 454.5h0M904.3 454.5h0M905.0 454.4h0M906.1 454.4h0M906.7 454.4h0M907.4 454.5h0M908.3 454.3h0M909.3 454.5h0M909.7 454.4h0M910.9 454.4h0M911.5 454.5h0M912.2 454.3h0M913.1 454.4h0M913.8 454.5h0M914.9 454.3h0M915.7 454.4h0M916.5 454.4h0M917.1 454.3h0M918.1 454.4h0M919.0 454.4h0M919.9 454.5h0M920.8 454.3h0M921.5 454.3h0M922.3 454.3h0M923.0 454.5h0M923.7 454.3h0M924.5 454.4h0M925.1 454.4h0M926.3 454.5h0M927.0 454.4h0M927.6 454.4h0M928.4 454.4h0M929.3 454.5h0M930.4 454.4h0M931.4 454.5h0M931.6 454.4h0M932.5 454.5h0M933.4 454.4h0M934.3 454.5h0M935.0 454.5h0M935.9 454.4h0M936.7 454.5h0M937.4 454.4h0M938.4 454.5h0M939.1 454.3h0M939.9 454.4h0M687.8 329.7h0M688.2 330.3h0M687.8 330.3h0M688.1 331.8h0M688.4 332.3h0M688.1 333.2h0M687.6 333.4h0M688.0 333.8h0M688.6 334.1h0M688.7 335.2h0M687.9 335.9h0M688.2 336.4h0M688.1 336.0h0M688.9 337.2h0M688.4 337.9h0M688.9 338.2h0M687.9 338.7h0M688.6 339.9h0M688.7 340.5h0M688.5 340.5h0M688.1 342.0h0M687.8 341.4h0M688.6 342.7h0M688.2 342.8h0M687.9 344.1h0M688.0 344.1h0M687.9 344.2h0M687.4 345.4h0M687.6 345.8h0M689.3 348.4h0M687.3 349.1h0M689.3 348.0h0M686.8 348.3h0M689.3 349.7h0M687.7 349.7h0M688.6 351.3h0M689.3 350.5h0M689.6 351.1h0M688.2 351.0h0M687.2 351.9h0M689.1 352.6h0M687.8 351.7h0M686.9 351.9h0M687.6 354.6h0M689.2 352.5h0M687.3 353.4h0M689.7 354.0h0M688.7 353.3h0M688.5 354.0h0M688.5 354.0h0M688.3 355.5h0M687.6 356.1h0M689.5 357.4h0M689.1 357.9h0M687.1 357.9h0M689.3 357.2h0M687.1 358.2h0M689.3 359.2h0M688.3 357.5h0M688.7 359.3h0M689.4 358.3h0M688.3 358.2h0M688.7 359.5h0M686.8 360.3h0M687.8 362.3h0M687.6 361.6h0M688.1 360.6h0M688.2 362.0h0M688.1 363.6h0M688.5 363.2h0M689.3 364.3h0M689.3 363.7h0M688.8 364.6h0M687.7 364.5h0M689.4 365.3h0M689.5 365.6h0M688.4 363.9h0M687.9 365.3h0M688.1 364.5h0M690.6 368.2h0M691.5 368.1h0M691.2 368.8h0M690.8 370.1h0M691.1 369.9h0M691.6 371.2h0M691.9 371.3h0M692.3 372.2h0M692.2 372.4h0M691.6 372.7h0M691.5 373.5h0M691.4 374.6h0M692.5 374.4h0M692.5 374.6h0M691.6 375.6h0M692.1 376.5h0M691.7 377.4h0M692.1 377.1h0M691.4 377.9h0M691.8 377.8h0M691.7 378.9h0M692.0 379.3h0M691.4 379.9h0M691.5 380.6h0M692.5 381.5h0M691.7 381.4h0M692.1 382.9h0M692.5 382.3h0M691.9 383.2h0M691.8 383.8h0M691.3 384.5h0M692.5 384.6h0M684.6 370.1h0M683.9 370.4h0M685.0 372.5h0M684.4 371.5h0M684.8 372.3h0M684.8 373.2h0M683.6 373.2h0M683.4 374.2h0M684.4 373.8h0M683.5 374.5h0M683.7 375.6h0M684.2 376.0h0M684.1 376.8h0M684.6 377.3h0M683.9 377.1h0M683.0 378.6h0M682.6 378.3h0M684.0 378.8h0M683.6 378.7h0M683.0 379.5h0M682.9 381.0h0M683.6 379.7h0M682.8 380.6h0M682.6 382.4h0M683.3 382.5h0M683.1 382.6h0M683.5 383.8h0M682.8 382.4h0M681.6 383.6h0M681.8 385.1h0M683.2 384.6h0M682.1 386.1h0M682.2 385.4h0M682.2 385.6h0M683.0 387.3h0M682.5 386.3h0M681.7 387.6h0M681.6 388.6h0M681.3 388.0h0M682.1 389.4h0M682.8 388.5h0M681.4 390.6h0M683.1 390.3h0M682.5 391.0h0M682.6 391.4h0M681.8 391.4h0M681.8 392.4h0M682.7 393.2h0M682.8 393.5h0M681.5 393.2h0M682.0 394.3h0M682.0 395.7h0M682.1 395.2h0M682.3 396.2h0M681.8 396.8h0M682.3 395.7h0M681.5 396.8h0M681.9 396.7h0M680.7 397.9h0M681.6 399.1h0M682.5 398.7h0M681.6 398.8h0M680.9 399.3h0M680.7 400.1h0M680.7 400.6h0M682.0 401.5h0M681.1 402.1h0M682.5 401.9h0M253.8 212.6h0M258.3 168.8h0M257.7 170.8h0M258.1 173.5h0M256.2 175.5h0M257.3 175.8h0M257.8 177.2h0M257.8 179.6h0M257.9 182.2h0M258.1 184.0h0M257.6 186.4h0M258.6 195.2h0M266.8 200.5h0M260.2 202.5h0M267.8 202.4h0M260.0 205.5h0M267.7 204.6h0M259.6 207.5h0M269.1 207.6h0M260.4 209.2h0M269.9 209.2h0M260.6 212.0h0M269.8 212.5h0M260.5 214.6h0M268.7 214.6h0M260.6 217.0h0M269.5 216.0h0M260.5 219.0h0M261.8 219.5h0M260.6 223.6h0M262.1 225.2h0M247.0 228.0h0M248.8 227.8h0M251.7 227.9h0M262.5 227.9h0M248.3 229.8h0M250.4 230.1h0M261.8 230.5h0M248.7 232.4h0M250.4 232.8h0M262.1 233.3h0M251.2 242.3h0M251.1 244.1h0M252.7 243.7h0M250.7 246.2h0M253.0 247.0h0M249.3 248.4h0M251.3 248.6h0M249.1 251.3h0M251.0 251.2h0M250.4 254.1h0M249.4 255.7h0M251.5 255.9h0M248.8 257.8h0M251.0 257.6h0M249.4 262.2h0M250.4 263.0h0M249.2 265.2h0M249.3 266.7h0M248.2 269.3h0M248.5 272.0h0M249.0 273.5h0M284.9 280.6h0M287.6 281.0h0M285.9 283.8h0M287.3 283.7h0M285.3 285.5h0M280.2 288.1h0M283.0 288.3h0M285.5 287.7h0M287.5 288.4h0M278.8 290.5h0M280.4 290.2h0M283.1 290.1h0M286.1 289.7h0M288.2 290.3h0M230.9 292.7h0M278.3 292.7h0M281.2 291.8h0M283.7 292.3h0M286.0 292.2h0M288.2 292.2h0M231.0 295.1h0M232.2 294.5h0M278.6 294.3h0M281.5 295.3h0M283.0 294.6h0M285.4 294.1h0M230.7 296.5h0M233.0 297.7h0M278.5 296.4h0M281.2 297.5h0M230.3 299.8h0M232.1 299.9h0M279.0 300.0h0M280.9 299.3h0M230.6 302.2h0M232.6 301.1h0M279.2 301.6h0M281.4 302.0h0M291.9 301.2h0M230.6 303.6h0M278.8 303.8h0M280.3 303.7h0M292.5 304.2h0M278.5 305.7h0M281.5 306.9h0M291.7 306.4h0M279.2 308.0h0M281.5 308.8h0M292.2 309.2h0M279.1 311.4h0M293.1 310.5h0M292.6 312.8h0M294.2 313.2h0M292.8 315.5h0M127.3 318.2h0M292.9 317.6h0M125.0 320.1h0M127.2 320.2h0M128.7 320.8h0M130.9 320.3h0M292.5 320.4h0M126.3 322.9h0M128.6 322.4h0M131.1 321.8h0M124.9 324.5h0M127.3 324.3h0M129.6 324.5h0M130.8 324.8h0M133.4 325.3h0M127.1 326.8h0M129.3 327.7h0M131.2 327.3h0M133.0 327.3h0M132.1 329.3h0M133.1 328.8h0M290.5 329.0h0M291.8 329.5h0M131.0 330.9h0M133.1 331.5h0M292.7 331.6h0M131.0 334.3h0M133.7 333.4h0M292.2 334.3h0M131.0 336.5h0M133.6 336.4h0M135.4 335.8h0M292.6 336.7h0M294.3 336.3h0M131.9 338.2h0M133.3 338.8h0M135.7 339.1h0M292.5 338.7h0M294.7 338.9h0M130.8 340.1h0M133.6 340.3h0M135.9 341.0h0M294.5 340.2h0M131.8 343.2h0M133.9 342.7h0M136.5 343.1h0M294.2 343.3h0M296.5 343.2h0M299.3 342.7h0M131.5 345.9h0M133.2 345.1h0M136.3 345.9h0M297.6 345.1h0M299.4 345.6h0M543.2 345.5h0M133.2 348.0h0M136.0 347.7h0M296.6 348.0h0M299.9 347.5h0M543.7 347.8h0M545.5 347.1h0M548.3 348.1h0M131.5 349.8h0M133.5 350.6h0M135.8 349.6h0M297.3 349.8h0M299.7 349.6h0M543.3 350.7h0M545.5 350.4h0M548.3 349.9h0M549.5 349.9h0M298.6 352.6h0M542.4 352.2h0M545.9 351.6h0M548.1 352.3h0M549.5 352.9h0M297.0 354.2h0M298.8 354.0h0M310.2 354.1h0M543.5 355.2h0M545.5 354.7h0M548.1 355.2h0M549.5 355.1h0M299.6 356.8h0M311.0 356.5h0M312.5 357.2h0M315.0 356.7h0M543.1 356.5h0M544.8 357.1h0M547.2 357.1h0M549.9 357.0h0M298.7 359.7h0M311.2 359.0h0M313.8 359.2h0M315.6 359.8h0M317.9 358.6h0M543.4 359.2h0M544.9 359.3h0M547.1 358.7h0M298.8 361.0h0M311.3 361.7h0M312.5 362.1h0M315.3 361.7h0M317.5 361.8h0M320.6 361.6h0M543.2 361.3h0M545.7 362.1h0M547.4 361.0h0M311.0 364.2h0M312.6 364.1h0M315.7 363.9h0M317.3 363.5h0M319.3 364.4h0M321.9 364.3h0M548.3 364.1h0M299.3 366.8h0M301.2 366.7h0M310.7 365.7h0M312.7 366.5h0M315.5 365.5h0M317.3 366.7h0M320.1 365.8h0M321.9 366.6h0M547.6 366.7h0M550.0 366.7h0M138.7 368.8h0M302.2 368.3h0M311.1 368.4h0M312.7 368.0h0M315.9 368.9h0M318.0 369.1h0M319.5 368.2h0M322.8 368.3h0M140.2 370.6h0M300.0 370.3h0M302.2 371.0h0M303.3 370.8h0M313.7 370.4h0M315.2 370.8h0M317.8 370.3h0M319.5 371.2h0M322.5 370.1h0M696.9 370.9h0M700.1 371.2h0M140.8 372.7h0M142.6 373.6h0M302.1 373.3h0M303.5 372.8h0M312.6 373.1h0M315.6 373.3h0M318.2 372.8h0M320.7 372.6h0M322.3 373.0h0M694.5 373.0h0M697.9 373.1h0M699.0 373.0h0M701.5 373.0h0M140.8 375.6h0M143.1 374.9h0M145.0 375.1h0M301.7 375.8h0M303.4 375.2h0M315.9 375.3h0M317.3 375.7h0M320.6 375.6h0M321.8 376.0h0M695.0 375.6h0M697.6 375.9h0M699.5 375.4h0M701.6 375.7h0M140.6 377.8h0M142.2 377.7h0M145.1 377.8h0M148.1 378.3h0M301.5 378.1h0M304.1 378.2h0M305.6 377.3h0M322.2 377.9h0M324.0 377.3h0M695.2 377.0h0M697.7 377.5h0M699.7 377.5h0M701.2 377.1h0M703.7 377.2h0M723.0 377.5h0M725.1 377.2h0M140.5 380.2h0M142.5 379.6h0M145.2 379.6h0M148.1 379.3h0M304.4 380.1h0M552.9 380.4h0M695.0 379.6h0M697.8 380.2h0M699.2 380.0h0M701.6 380.1h0M704.7 380.4h0M723.1 380.4h0M724.9 379.3h0M726.6 379.3h0M141.3 381.6h0M143.0 381.8h0M145.6 382.3h0M148.0 382.5h0M304.4 382.5h0M552.5 381.6h0M554.0 382.6h0M694.2 382.5h0M697.5 382.4h0M699.7 382.0h0M701.3 381.7h0M704.1 381.5h0M706.2 381.8h0M717.8 382.5h0M719.6 381.9h0M722.1 382.2h0M724.2 381.9h0M727.4 381.7h0M728.9 382.7h0M142.4 383.8h0M145.2 384.8h0M147.1 384.5h0M303.5 384.2h0M306.1 383.8h0M552.9 384.0h0M554.7 384.1h0M695.3 384.9h0M697.8 384.1h0M699.0 384.0h0M701.5 384.7h0M704.5 384.2h0M705.7 384.2h0M708.6 385.0h0M718.5 384.7h0M719.9 384.5h0M722.9 383.9h0M725.2 384.9h0M726.8 384.8h0M728.9 384.6h0M142.4 386.4h0M144.5 387.2h0M147.2 386.3h0M304.1 386.8h0M305.6 386.8h0M552.6 386.3h0M554.9 386.8h0M695.4 386.9h0M697.0 387.1h0M699.3 386.7h0M704.7 387.1h0M706.0 386.9h0M708.7 386.5h0M715.8 386.7h0M717.9 386.6h0M719.5 386.2h0M722.6 386.3h0M724.5 386.6h0M727.2 386.7h0M729.1 387.4h0M144.9 389.0h0M303.5 389.3h0M306.1 388.7h0M552.4 389.1h0M555.0 389.6h0M697.5 388.6h0M699.1 388.7h0M708.8 388.9h0M718.0 389.6h0M720.4 388.5h0M722.5 389.1h0M725.1 389.8h0M727.7 389.7h0M728.9 389.0h0M768.9 388.9h0M771.0 389.7h0M145.8 391.8h0M148.2 391.6h0M304.0 391.0h0M306.0 391.1h0M554.9 392.0h0M556.3 392.1h0M695.2 391.0h0M696.6 390.9h0M709.3 391.9h0M718.4 391.6h0M720.1 391.2h0M722.5 391.5h0M725.0 391.8h0M726.5 391.0h0M728.8 391.3h0M738.0 391.1h0M740.5 391.6h0M742.8 391.7h0M745.6 391.5h0M770.5 391.7h0M773.6 391.0h0M775.2 392.1h0M777.8 391.5h0M779.9 391.6h0M782.2 392.0h0M793.3 392.0h0M145.9 393.5h0M147.4 394.4h0M149.5 393.9h0M304.3 393.5h0M554.6 394.1h0M557.5 394.2h0M695.0 393.3h0M696.9 393.6h0M708.9 394.2h0M718.4 394.2h0M719.7 393.9h0M722.2 394.1h0M724.8 393.3h0M727.7 394.0h0M729.0 394.2h0M736.6 393.7h0M738.5 393.9h0M740.3 393.7h0M743.1 393.6h0M745.2 393.0h0M770.5 393.7h0M773.5 393.4h0M775.6 394.2h0M778.2 393.5h0M780.2 393.7h0M782.3 394.0h0M791.3 393.4h0M793.8 393.1h0M145.4 395.5h0M147.8 396.7h0M149.5 396.4h0M304.3 396.2h0M305.5 396.1h0M554.5 395.5h0M557.4 395.7h0M558.6 395.8h0M696.7 395.9h0M725.3 395.3h0M726.5 396.1h0M736.7 396.1h0M738.4 395.8h0M740.8 396.2h0M743.5 396.2h0M770.3 395.6h0M773.4 395.4h0M775.7 396.0h0M778.3 396.6h0M779.7 396.5h0M782.1 396.5h0M792.1 395.3h0M793.8 395.4h0M144.7 398.4h0M147.5 397.8h0M149.5 398.6h0M303.5 398.6h0M329.6 397.6h0M331.3 398.9h0M556.8 398.8h0M558.8 398.7h0M587.2 397.9h0M697.6 397.9h0M740.6 397.8h0M771.4 397.7h0M773.6 398.3h0M775.4 398.8h0M777.9 397.7h0M779.9 398.2h0M782.6 397.6h0M791.2 398.8h0M793.4 397.8h0M144.7 400.0h0M148.0 400.2h0M303.8 400.0h0M328.9 401.3h0M331.3 401.2h0M333.5 400.7h0M557.3 400.8h0M559.1 401.1h0M587.1 400.5h0M697.1 400.7h0M763.2 400.6h0M768.7 399.9h0M770.5 401.3h0M773.7 400.4h0M775.0 400.3h0M777.5 400.3h0M779.7 400.2h0M791.8 401.0h0M793.4 400.6h0M795.8 401.2h0M304.4 403.1h0M328.7 402.8h0M331.2 403.6h0M333.8 402.6h0M336.5 403.0h0M347.9 403.0h0M559.8 403.2h0M749.9 402.6h0M752.8 403.3h0M759.8 402.6h0M761.0 403.2h0M764.6 403.1h0M765.6 402.3h0M768.0 402.7h0M770.3 403.3h0M793.6 402.7h0M329.2 405.5h0M331.8 405.3h0M333.1 404.8h0M336.0 405.6h0M337.9 404.6h0M347.4 405.8h0M349.6 404.7h0M558.6 404.6h0M750.4 404.9h0M752.4 405.7h0M759.9 405.5h0M762.0 404.6h0M764.3 405.7h0M766.1 405.2h0M769.0 405.0h0M153.8 407.2h0M329.4 407.0h0M331.9 407.1h0M334.2 406.8h0M336.3 407.2h0M338.1 407.0h0M340.0 408.2h0M347.1 408.0h0M349.9 407.3h0M640.3 408.2h0M752.8 407.4h0M761.6 408.0h0M763.5 406.9h0M766.1 407.9h0M768.8 407.6h0M147.2 410.5h0M154.0 409.1h0M216.6 410.2h0M329.8 410.1h0M332.0 410.2h0M334.4 409.3h0M335.6 409.7h0M338.1 409.2h0M341.1 409.4h0M343.0 410.0h0M344.9 410.3h0M347.1 410.4h0M350.0 410.0h0M533.5 410.1h0M535.9 410.0h0M640.4 410.1h0M642.4 410.2h0M750.1 409.3h0M752.7 410.4h0M761.0 410.0h0M764.0 409.9h0M766.8 409.7h0M146.9 411.7h0M154.6 412.1h0M211.9 411.5h0M213.9 411.5h0M216.4 411.7h0M218.1 412.4h0M220.7 412.6h0M329.1 412.7h0M331.2 411.8h0M333.9 412.5h0M336.6 412.0h0M337.7 411.9h0M340.1 412.6h0M342.3 412.0h0M347.1 412.5h0M349.2 412.1h0M532.0 411.8h0M533.9 412.7h0M535.9 411.5h0M538.6 411.5h0M637.9 412.3h0M639.3 412.4h0M642.5 411.7h0M750.5 411.8h0M752.2 412.7h0M212.0 414.6h0M213.5 414.8h0M216.4 414.2h0M219.0 414.3h0M220.4 414.9h0M328.9 413.8h0M331.5 414.0h0M333.3 414.4h0M336.1 414.7h0M338.8 414.0h0M341.2 414.6h0M531.4 415.0h0M533.3 414.4h0M536.7 415.0h0M539.2 414.7h0M644.0 414.3h0M752.6 413.8h0M211.8 416.2h0M214.3 416.9h0M216.0 416.2h0M218.9 417.3h0M328.8 416.9h0M336.4 416.8h0M338.9 416.1h0M340.6 416.6h0M531.7 417.2h0M533.6 416.1h0M535.8 416.3h0M538.0 417.3h0M752.2 416.0h0M214.5 418.9h0M216.5 419.1h0M218.4 418.5h0M338.2 419.5h0M340.0 419.2h0M529.6 419.3h0M531.4 419.0h0M534.1 419.0h0M536.0 419.1h0M539.0 419.2h0M750.2 419.1h0M752.2 418.8h0M216.1 420.6h0M338.6 420.7h0M529.8 422.0h0M531.7 420.8h0M533.3 420.8h0M536.1 421.3h0M750.0 421.5h0M752.4 420.9h0M168.6 424.2h0M529.8 423.6h0M532.2 423.0h0M750.7 423.3h0M168.6 427.8h0M442.2 428.8h0M168.7 430.2h0M442.2 430.6h0M444.5 430.7h0M447.2 431.1h0M449.3 430.2h0M451.2 430.5h0M453.0 431.0h0M450.7 433.1h0M452.8 432.7h0M455.4 432.5h0M256.2 167.0h0M260.2 167.0h0M254.2 170.0h0M261.2 189.0h0M262.2 195.0h0M268.2 198.0h0M270.2 200.0h0M263.2 205.0h0M252.2 206.0h0M254.2 208.0h0M263.2 208.0h0M252.2 210.0h0M266.2 213.0h0M252.2 215.0h0M255.2 215.0h0M253.2 218.0h0M272.2 223.0h0M270.2 225.0h0M260.2 236.0h0M248.2 239.0h0M255.2 239.0h0M247.2 242.0h0M253.2 261.0h0M252.2 268.0h0M284.2 272.0h0M287.2 272.0h0M245.2 276.0h0M290.2 279.0h0M250.2 281.0h0M246.2 283.0h0M249.2 284.0h0M290.2 296.0h0M288.2 298.0h0M293.2 298.0h0M234.2 306.0h0M288.2 306.0h0M229.2 307.0h0M276.2 312.0h0M283.2 313.0h0M123.2 317.0h0M295.2 324.0h0M288.2 327.0h0M295.2 327.0h0M138.2 331.0h0M128.2 337.0h0M302.2 341.0h0M540.2 341.0h0M545.2 341.0h0M291.2 342.0h0M551.2 345.0h0M552.2 348.0h0M293.2 349.0h0M307.2 350.0h0M310.2 350.0h0M539.2 352.0h0M294.2 353.0h0M135.2 355.0h0M139.2 355.0h0M137.2 357.0h0M307.2 358.0h0M135.2 359.0h0M139.2 359.0h0M137.2 361.0h0M307.2 361.0h0M307.2 369.0h0M546.2 369.0h0M552.2 369.0h0M308.2 374.0h0M724.2 374.0h0M151.2 375.0h0M551.2 375.0h0M554.2 375.0h0M706.2 376.0h0M316.2 379.0h0M557.2 381.0h0M137.2 382.0h0M323.2 383.0h0M326.2 383.0h0M713.2 384.0h0M732.2 385.0h0M766.2 386.0h0M779.2 387.0h0M140.2 388.0h0M743.2 388.0h0M773.2 388.0h0M783.2 388.0h0M736.2 389.0h0M747.2 389.0h0M796.2 389.0h0M704.2 390.0h0M152.2 391.0h0M789.2 391.0h0M587.2 392.0h0M748.2 393.0h0M785.2 393.0h0M706.2 394.0h0M308.2 395.0h0M325.2 395.0h0M712.2 395.0h0M590.2 396.0h0M788.2 396.0h0M701.2 397.0h0M717.2 397.0h0M325.2 398.0h0M712.2 398.0h0M720.2 398.0h0M734.2 398.0h0M754.2 398.0h0M153.2 399.0h0M757.2 399.0h0M788.2 400.0h0M591.2 401.0h0M152.2 402.0h0M339.2 402.0h0M707.2 402.0h0M755.2 402.0h0M307.2 403.0h0M325.2 403.0h0M343.2 403.0h0M584.2 403.0h0M693.2 403.0h0M781.2 403.0h0M784.2 403.0h0M149.2 404.0h0M156.2 404.0h0M352.2 404.0h0M700.2 404.0h0M712.2 404.0h0M152.2 405.0h0M640.2 405.0h0M790.2 406.0h0M306.2 407.0h0M302.2 408.0h0M757.2 408.0h0M530.2 409.0h0M541.2 409.0h0M563.2 409.0h0M635.2 409.0h0M144.2 410.0h0M151.2 410.0h0M325.2 411.0h0M353.2 411.0h0M758.2 411.0h0M771.2 412.0h0M635.2 413.0h0M223.2 414.0h0M559.2 414.0h0M563.2 414.0h0M747.2 414.0h0M157.2 415.0h0M152.2 416.0h0M145.2 417.0h0M641.2 417.0h0M644.2 419.0h0M344.2 420.0h0M166.2 421.0h0M169.2 421.0h0M326.2 421.0h0M209.2 422.0h0M330.2 422.0h0M214.2 424.0h0M441.2 424.0h0M755.2 424.0h0M532.2 426.0h0M447.2 427.0h0M754.2 427.0h0M455.2 429.0h0M750.2 429.0h0M439.2 431.0h0M171.2 434.0h0M458.2 434.0h0M167.2 436.0h0M170.2 437.0h0" stroke="#000" stroke-width="5.50" stroke-linecap="round" fill="none"/>
<path d="M902.7 454.45H939" stroke="#000" stroke-width="6.7" stroke-linecap="round" fill="none"/>
<path d="M119.8 324.0 L120.5 324.8 L121.2 326.1 L121.9 327.0 L122.6 327.3 L123.3 327.9 L124.0 328.1 L124.7 330.1 L125.4 332.1 L126.1 333.7 L126.8 335.3 L127.5 336.5 L128.2 338.8 L128.9 340.4 L129.6 341.6 L130.3 343.3 L131.0 343.9 L131.7 345.0 L132.4 346.1 L133.1 347.0 L133.8 348.4 L134.5 349.5 L135.2 350.1 L135.9 350.4 L136.6 349.7 L137.3 352.7 L138.0 357.6 L138.7 361.5 L139.4 364.5 L140.1 366.4 L140.8 367.2 L141.5 368.4 L142.2 369.2 L142.9 370.0 L143.6 370.8 L144.3 372.0 L145.0 374.5 L145.7 376.9 L146.4 379.6 L147.1 382.8 L147.8 385.1 L148.5 387.4 L149.2 388.9 L149.9 390.9 L150.6 392.5 L151.3 394.4 L152.0 396.5 L152.7 398.4 L153.4 400.1 L154.1 401.4 L154.8 401.2 L155.5 400.8 L156.2 400.4 L156.9 401.7 L157.6 403.5 L158.3 404.6 L159.0 406.0 L159.7 407.5 L160.4 408.3 L161.1 409.6 L161.8 410.7 L162.5 411.9 L163.2 412.5 L163.9 413.6 L164.6 414.9 L165.3 415.9 L166.0 416.9 L166.7 417.7 L167.4 418.2 L168.1 419.0 L168.8 418.3 L169.5 417.5 L170.2 416.5 L170.9 419.4 L171.6 422.9 L172.3 426.1 L173.0 428.1 L173.7 428.8 L174.4 429.7 L175.1 431.1 L175.8 431.8 L176.5 433.2 L177.2 435.0 L177.9 436.4 L178.6 438.1 L179.3 439.4 L180.0 440.1 L180.7 440.3 L181.4 440.5 L182.1 440.8 L182.8 440.9 L183.5 441.5 L184.2 441.8 L184.9 442.8 L185.6 443.1 L186.3 443.8 L187.0 444.3 L187.7 443.3 L188.4 442.3 L189.1 441.1 L189.8 439.8 L190.5 439.5 L191.2 440.0 L191.9 439.7 L192.6 439.9 L193.3 439.7 L194.0 440.0 L194.7 439.9 L195.4 439.9 L196.1 439.8 L196.8 439.7 L197.5 439.2 L198.2 438.7 L198.9 438.7 L199.6 438.4 L200.3 438.2 L201.0 436.8 L201.7 433.6 L202.4 433.0 L203.1 435.2 L203.8 437.7 L204.5 439.0 L205.2 432.6 L205.9 426.1 L206.6 419.8 L207.3 416.5 L208.0 414.2 L208.7 412.0 L209.4 410.1 L210.1 407.9 L210.8 405.7 L211.5 403.3 L212.2 401.7 L212.9 399.3 L213.6 395.3 L214.3 390.5 L215.0 386.6 L215.7 382.4 L216.4 379.2 L217.1 376.3 L217.8 372.7 L218.5 369.6 L219.2 366.0 L219.9 362.5 L220.6 358.8 L221.3 354.6 L222.0 350.5 L222.7 346.1 L223.4 342.0 L224.1 338.4 L224.8 334.4 L225.5 330.3 L226.2 325.7 L226.9 321.5 L227.6 317.8 L228.3 313.9 L229.0 309.8 L229.7 305.3 L230.4 301.4 L231.1 297.7 L231.8 293.0 L232.5 289.3 L233.2 285.2 L233.9 280.8 L234.6 277.2 L235.3 274.4 L236.0 270.8 L236.7 268.4 L237.4 266.3 L238.1 263.7 L238.8 260.3 L239.5 257.1 L240.2 254.4 L240.9 251.2 L241.6 248.5 L242.3 246.0 L243.0 243.5 L243.7 241.4 L244.4 239.2 L245.1 237.6 L245.8 235.0 L246.5 233.6 L247.2 231.3 L247.9 229.2 L248.6 226.6 L249.3 223.7 L250.0 221.2 L250.7 219.3 L251.4 216.5 L252.1 214.5 L252.8 211.8 L253.5 209.5 L254.2 207.1 L254.9 203.3 L255.6 200.2 L256.3 196.8 L257.0 192.3 L257.7 188.1 L258.4 186.1 L259.1 190.5 L259.8 194.5 L260.5 198.1 L261.2 200.9 L261.9 203.6 L262.6 206.5 L263.3 209.3 L264.0 211.4 L264.7 212.5 L265.4 214.0 L266.1 215.0 L266.8 215.9 L267.5 216.4 L268.2 217.3 L268.9 219.0 L269.6 223.5 L270.3 227.7 L271.0 233.2 L271.7 239.0 L272.4 243.6 L273.1 246.3 L273.8 249.6 L274.5 252.1 L275.2 255.1 L275.9 258.2 L276.6 261.1 L277.3 263.8 L278.0 266.9 L278.7 270.8 L279.4 274.4 L280.1 277.8 L280.8 281.8 L281.5 285.3 L282.2 287.7 L282.9 289.9 L283.6 292.5 L284.3 295.5 L285.0 298.4 L285.7 301.3 L286.4 303.3 L287.1 303.6 L287.8 304.5 L288.5 304.6 L289.2 306.9 L289.9 309.3 L290.6 311.6 L291.3 313.9 L292.0 316.4 L292.7 319.0 L293.4 321.2 L294.1 323.6 L294.8 325.6 L295.5 327.6 L296.2 330.0 L296.9 331.8 L297.6 333.5 L298.3 336.0 L299.0 337.8 L299.7 339.4 L300.4 339.7 L301.1 340.0 L301.8 344.6 L302.5 349.1 L303.2 354.0 L303.9 358.1 L304.6 361.0 L305.3 363.1 L306.0 365.9 L306.7 368.0 L307.4 370.1 L308.1 371.6 L308.8 374.1 L309.5 375.9 L310.2 377.8 L310.9 379.0 L311.6 380.0 L312.3 381.3 L313.0 382.4 L313.7 382.8 L314.4 383.8 L315.1 385.1 L315.8 386.1 L316.5 387.2 L317.2 387.8 L317.9 388.7 L318.6 389.5 L319.3 390.2 L320.0 390.9 L320.7 391.7 L321.4 391.6 L322.1 392.2 L322.8 393.2 L323.5 393.7 L324.2 393.9 L324.9 394.4 L325.6 394.9 L326.3 395.9 L327.0 396.2 L327.7 396.7 L328.4 397.6 L329.1 397.7 L329.8 398.3 L330.5 397.4 L331.2 396.8 L331.9 396.7 L332.6 396.2 L333.3 395.4 L334.0 396.6 L334.7 399.4 L335.4 401.5 L336.1 403.8 L336.8 404.3 L337.5 404.3 L338.2 403.7 L338.9 403.7 L339.6 404.2 L340.3 404.6 L341.0 406.2 L341.7 407.5 L342.4 408.8 L343.1 410.3 L343.8 411.7 L344.5 412.1 L345.2 412.9 L345.9 413.8 L346.6 414.3 L347.3 414.7 L348.0 415.3 L348.7 416.0 L349.4 416.2 L350.1 416.8 L350.8 417.5 L351.5 418.2 L352.2 418.2 L352.9 417.9 L353.6 417.7 L354.3 417.6 L355.0 417.1 L355.7 417.3 L356.4 417.2 L357.1 416.8 L357.8 417.6 L358.5 417.6 L359.2 418.0 L359.9 418.7 L360.6 418.8 L361.3 419.1 L362.0 419.0 L362.7 418.0 L363.4 417.5 L364.1 416.4 L364.8 415.6 L365.5 415.2 L366.2 414.4 L366.9 416.0 L367.6 418.4 L368.3 421.5 L369.0 423.5 L369.7 423.8 L370.4 422.9 L371.1 422.5 L371.8 422.6 L372.5 422.3 L373.2 422.8 L373.9 424.6 L374.6 425.7 L375.3 427.7 L376.0 429.1 L376.7 430.2 L377.4 430.9 L378.1 431.0 L378.8 432.0 L379.5 432.4 L380.2 432.5 L380.9 433.1 L381.6 433.6 L382.3 434.3 L383.0 434.6 L383.7 435.2 L384.4 435.9 L385.1 435.5 L385.8 435.6 L386.5 435.1 L387.2 434.7 L387.9 434.6 L388.6 434.0 L389.3 434.3 L390.0 433.5 L390.7 433.5 L391.4 433.6 L392.1 432.7 L392.8 432.8 L393.5 432.8 L394.2 432.5 L394.9 431.8 L395.6 431.3 L396.3 430.5 L397.0 429.2 L397.7 428.3 L398.4 427.1 L399.1 425.6 L399.8 427.8 L400.5 430.6 L401.2 432.7 L401.9 433.0 L402.6 432.5 L403.3 431.9 L404.0 431.8 L404.7 431.1 L405.4 431.0 L406.1 431.3 L406.8 433.3 L407.5 434.1 L408.2 435.7 L408.9 435.8 L409.6 436.2 L410.3 436.3 L411.0 436.4 L411.7 437.3 L412.4 437.4 L413.1 437.4 L413.8 437.9 L414.5 438.0 L415.2 438.4 L415.9 438.8 L416.6 438.4 L417.3 437.4 L418.0 436.8 L418.7 436.4 L419.4 435.8 L420.1 435.5 L420.8 434.7 L421.5 434.6 L422.2 434.0 L422.9 433.6 L423.6 433.5 L424.3 433.0 L425.0 433.0 L425.7 433.0 L426.4 432.9 L427.1 432.2 L427.8 432.3 L428.5 432.1 L429.2 431.1 L429.9 429.9 L430.6 428.3 L431.3 426.8 L432.0 426.4 L432.7 428.2 L433.4 430.4 L434.1 432.5 L434.8 432.0 L435.5 431.5 L436.2 431.2 L436.9 431.0 L437.6 430.5 L438.3 430.0 L439.0 431.6 L439.7 432.7 L440.4 434.9 L441.1 435.9 L441.8 436.2 L442.5 436.9 L443.2 437.6 L443.9 437.9 L444.6 438.4 L445.3 438.9 L446.0 439.5 L446.7 440.0 L447.4 440.1 L448.1 440.4 L448.8 441.0 L449.5 440.3 L450.2 439.3 L450.9 438.7 L451.6 438.1 L452.3 436.8 L453.0 436.3 L453.7 436.6 L454.4 436.1 L455.1 436.3 L455.8 436.4 L456.5 436.6 L457.2 436.7 L457.9 436.2 L458.6 436.7 L459.3 436.4 L460.0 436.1 L460.7 436.2 L461.4 436.4 L462.1 435.6 L462.8 433.7 L463.5 432.4 L464.2 431.4 L464.9 430.6 L465.6 432.5 L466.3 434.7 L467.0 437.4 L467.7 438.0 L468.4 437.2 L469.1 437.3 L469.8 436.7 L470.5 436.8 L471.2 436.1 L471.9 437.5 L472.6 439.2 L473.3 440.9 L474.0 441.1 L474.7 441.5 L475.4 442.0 L476.1 442.8 L476.8 442.8 L477.5 443.2 L478.2 443.7 L478.9 444.3 L479.6 444.3 L480.3 444.8 L481.0 445.2 L481.7 445.6 L482.4 446.0 L483.1 445.5 L483.8 444.4 L484.5 443.9 L485.2 442.9 L485.9 442.8 L486.6 441.9 L487.3 442.0 L488.0 441.5 L488.7 440.9 L489.4 441.1 L490.1 440.4 L490.8 440.3 L491.5 440.1 L492.2 439.4 L492.9 439.2 L493.6 439.1 L494.3 438.7 L495.0 437.3 L495.7 435.6 L496.4 434.1 L497.1 432.9 L497.8 432.0 L498.5 434.1 L499.2 436.0 L499.9 438.1 L500.6 437.7 L501.3 437.4 L502.0 436.6 L502.7 435.3 L503.4 434.6 L504.1 434.2 L504.8 435.6 L505.5 436.7 L506.2 437.9 L506.9 438.8 L507.6 438.3 L508.3 438.4 L509.0 438.7 L509.7 438.6 L510.4 438.3 L511.1 438.6 L511.8 438.7 L512.5 438.3 L513.2 438.5 L513.9 438.2 L514.6 437.4 L515.3 436.5 L516.0 435.1 L516.7 433.3 L517.4 432.3 L518.1 430.9 L518.8 429.6 L519.5 428.4 L520.2 426.7 L520.9 425.5 L521.6 423.8 L522.3 422.6 L523.0 421.5 L523.7 419.9 L524.4 417.5 L525.1 415.3 L525.8 413.5 L526.5 411.3 L527.2 409.5 L527.9 407.0 L528.6 405.3 L529.3 402.7 L530.0 401.0 L530.7 402.0 L531.4 402.4 L532.1 403.6 L532.8 403.4 L533.5 401.9 L534.2 400.4 L534.9 399.6 L535.6 398.1 L536.3 396.6 L537.0 395.3 L537.7 395.0 L538.4 394.5 L539.1 394.5 L539.8 393.7 L540.5 393.2 L541.2 393.5 L541.9 392.8 L542.6 392.7 L543.3 392.2 L544.0 392.7 L544.7 393.4 L545.4 393.5 L546.1 394.3 L546.8 395.0 L547.5 396.2 L548.2 395.5 L548.9 394.8 L549.6 394.1 L550.3 393.2 L551.0 392.7 L551.7 392.8 L552.4 392.6 L553.1 392.9 L553.8 393.0 L554.5 392.8 L555.2 392.7 L555.9 393.0 L556.6 392.7 L557.3 392.9 L558.0 393.1 L558.7 393.4 L559.4 393.0 L560.1 393.2 L560.8 392.5 L561.5 391.4 L562.2 390.2 L562.9 388.6 L563.6 387.5 L564.3 390.0 L565.0 392.7 L565.7 395.3 L566.4 396.2 L567.1 396.5 L567.8 396.0 L568.5 395.5 L569.2 395.4 L569.9 396.5 L570.6 397.5 L571.3 399.1 L572.0 400.4 L572.7 401.3 L573.4 401.4 L574.1 402.1 L574.8 402.3 L575.5 402.8 L576.2 403.3 L576.9 404.1 L577.6 404.5 L578.3 404.9 L579.0 405.4 L579.7 405.3 L580.4 405.8 L581.1 405.1 L581.8 404.5 L582.5 404.3 L583.2 403.9 L583.9 404.0 L584.6 404.2 L585.3 403.7 L586.0 403.7 L586.7 404.1 L587.4 403.5 L588.1 404.1 L588.8 403.6 L589.5 403.4 L590.2 403.5 L590.9 403.4 L591.6 403.9 L592.3 403.3 L593.0 402.3 L593.7 401.5 L594.4 400.0 L595.1 398.9 L595.8 399.1 L596.5 401.4 L597.2 404.2 L597.9 406.5 L598.6 406.4 L599.3 405.9 L600.0 406.0 L600.7 405.1 L601.4 404.7 L602.1 404.6 L602.8 406.8 L603.5 408.9 L604.2 410.6 L604.9 411.6 L605.6 412.0 L606.3 412.6 L607.0 412.9 L607.7 413.1 L608.4 413.6 L609.1 414.5 L609.8 414.6 L610.5 415.2 L611.2 415.3 L611.9 416.1 L612.6 416.6 L613.3 416.5 L614.0 416.3 L614.7 415.2 L615.4 414.5 L616.1 414.0 L616.8 413.9 L617.5 413.7 L618.2 413.5 L618.9 413.1 L619.6 413.3 L620.3 413.3 L621.0 413.4 L621.7 412.9 L622.4 413.0 L623.1 413.1 L623.8 413.1 L624.5 412.6 L625.2 413.1 L625.9 411.4 L626.6 410.3 L627.3 408.6 L628.0 406.8 L628.7 406.3 L629.4 408.7 L630.1 411.2 L630.8 414.0 L631.5 414.0 L632.2 413.2 L632.9 412.4 L633.6 412.1 L634.3 411.7 L635.0 413.3 L635.7 414.9 L636.4 416.1 L637.1 417.9 L637.8 418.1 L638.5 418.5 L639.2 418.7 L639.9 419.1 L640.6 419.4 L641.3 419.5 L642.0 419.9 L642.7 419.8 L643.4 420.3 L644.1 420.9 L644.8 420.7 L645.5 421.2 L646.2 421.7 L646.9 420.2 L647.6 418.5 L648.3 417.2 L649.0 416.1 L649.7 414.6 L650.4 413.8 L651.1 413.3 L651.8 412.5 L652.5 411.3 L653.2 411.0 L653.9 410.0 L654.6 409.3 L655.3 408.2 L656.0 407.7 L656.7 407.3 L657.4 406.5 L658.1 405.0 L658.8 403.5 L659.5 402.6 L660.2 400.9 L660.9 399.9 L661.6 398.4 L662.3 401.1 L663.0 403.1 L663.7 404.7 L664.4 404.1 L665.1 403.4 L665.8 402.1 L666.5 400.9 L667.2 400.3 L667.9 400.2 L668.6 401.1 L669.3 401.6 L670.0 402.9 L670.7 403.3 L671.4 402.9 L672.1 403.0 L672.8 402.3 L673.5 402.2 L674.2 402.2 L674.9 402.4 L675.6 402.0 L676.3 401.8 L677.0 401.8 L677.7 401.5 L678.4 400.9 L679.1 400.2 L679.8 398.8 L680.5 397.1 L681.2 396.0 L681.9 394.9 L682.6 393.9 L683.3 393.7 L684.0 392.7 L684.7 392.2 L685.4 391.6 L686.1 391.0 L686.8 390.0 L687.5 389.3 L688.2 388.3 L688.9 387.6 L689.6 387.4 L690.3 385.6 L691.0 384.4 L691.7 382.8 L692.4 381.8 L693.1 380.0 L693.8 379.0 L694.5 380.2 L695.2 382.9 L695.9 385.1 L696.6 385.3 L697.3 384.3 L698.0 383.5 L698.7 382.8 L699.4 382.1 L700.1 381.9 L700.8 383.2 L701.5 384.7 L702.2 386.9 L702.9 387.9 L703.6 389.2 L704.3 388.9 L705.0 389.5 L705.7 389.4 L706.4 389.9 L707.1 390.1 L707.8 390.6 L708.5 390.4 L709.2 390.8 L709.9 391.4 L710.6 391.7 L711.3 391.9 L712.0 392.1 L712.7 391.7 L713.4 391.0 L714.1 390.5 L714.8 390.4 L715.5 389.6 L716.2 388.9 L716.9 389.1 L717.6 388.5 L718.3 389.0 L719.0 388.6 L719.7 389.1 L720.4 388.9 L721.1 389.1 L721.8 388.9 L722.5 389.0 L723.2 388.8 L723.9 389.1 L724.6 388.7 L725.3 387.9 L726.0 386.1 L726.7 384.7 L727.4 383.5 L728.1 385.8 L728.8 388.3 L729.5 389.9 L730.2 390.1 L730.9 389.7 L731.6 389.1 L732.3 388.7 L733.0 389.2 L733.7 390.5 L734.4 392.3 L735.1 393.3 L735.8 394.6 L736.5 395.2 L737.2 395.8 L737.9 396.6 L738.6 396.9 L739.3 397.0 L740.0 397.4 L740.7 397.8 L741.4 398.3 L742.1 398.2 L742.8 399.2 L743.5 399.6 L744.2 399.6 L744.9 399.8 L745.6 399.4 L746.3 398.8 L747.0 398.1 L747.7 397.4 L748.4 397.3 L749.1 397.0 L749.8 396.8 L750.5 396.5 L751.2 396.5 L751.9 396.3 L752.6 396.7 L753.3 396.2 L754.0 396.2 L754.7 396.3 L755.4 396.3 L756.1 396.0 L756.8 395.7 L757.5 394.5 L758.2 393.4 L758.9 391.6 L759.6 390.3 L760.3 393.3 L761.0 396.5 L761.7 399.0 L762.4 398.5 L763.1 398.2 L763.8 397.7 L764.5 396.7 L765.2 396.1 L765.9 396.7 L766.6 398.8 L767.3 400.7 L768.0 402.6 L768.7 402.6 L769.4 403.1 L770.1 404.1 L770.8 404.2 L771.5 404.8 L772.2 404.9 L772.9 405.6 L773.6 405.8 L774.3 406.4 L775.0 406.8 L775.7 407.6 L776.4 407.6 L777.1 407.8 L777.8 406.8 L778.5 406.2 L779.2 405.6 L779.9 404.4 L780.6 404.0 L781.3 404.5 L782.0 404.5 L782.7 404.6 L783.4 404.5 L784.1 404.4 L784.8 404.4 L785.5 405.0 L786.2 404.6 L786.9 405.2 L787.6 405.3 L788.3 405.4 L789.0 405.0 L789.7 403.4 L790.4 401.7 L791.1 400.5 L791.8 398.9 L792.5 400.3 L793.2 402.7 L793.9 405.4 L794.6 407.6 L795.3 406.9 L796.0 406.9 L796.7 406.4 L797.4 405.8 L798.1 405.8 L798.8 406.9 L799.5 408.9 L800.2 410.2 L800.9 412.0 L801.6 412.5 L802.3 412.9 L803.0 413.2 L803.7 413.7 L804.4 414.0 L805.1 414.8 L805.8 415.5 L806.5 415.4 L807.2 416.2 L807.9 416.5 L808.6 416.8 L809.3 417.3 L810.0 417.4 L810.7 416.0 L811.4 415.4 L812.1 414.5 L812.8 413.9 L813.5 413.5 L814.2 413.5 L814.9 414.3 L815.6 414.0 L816.3 414.2 L817.0 414.1 L817.7 414.3 L818.4 414.4 L819.1 414.9 L819.8 414.6 L820.5 414.8 L821.2 415.1 L821.9 414.5 L822.6 412.9 L823.3 412.1 L824.0 410.6 L824.7 409.2 L825.4 411.3 L826.1 413.9 L826.8 416.9 L827.5 418.5 L828.2 418.0 L828.9 417.6 L829.6 417.2 L830.3 416.7 L831.0 416.4 L831.7 417.5 L832.4 419.1 L833.1 421.1 L833.8 422.2 L834.5 422.8 L835.2 423.4 L835.9 423.5 L836.6 424.1 L837.3 424.3 L838.0 424.6 L838.7 425.1 L839.4 425.6 L840.1 425.9 L840.8 426.3 L841.5 426.9 L842.2 427.2 L842.9 426.8 L843.6 425.7 L844.3 425.0 L845.0 424.5 L845.7 423.7 L846.4 424.2 L847.1 424.4 L847.8 424.4 L848.5 424.2 L849.2 424.6 L849.9 424.5 L850.6 424.5 L851.3 424.6 L852.0 424.4 L852.7 424.3 L853.4 425.0 L854.1 425.1 L854.8 424.1 L855.5 423.0 L856.2 422.0 L856.9 420.4 L857.6 419.7 L858.3 421.2 L859.0 423.3 L859.7 426.0 L860.4 428.6 L861.1 428.2 L861.8 427.3 L862.5 426.5 L863.2 426.4 L863.9 425.8 L864.6 427.3 L865.3 429.1 L866.0 430.8 L866.7 432.6 L867.4 432.7 L868.1 433.0 L868.8 433.6 L869.5 434.4 L870.2 434.5 L870.9 435.6 L871.6 436.1 L872.3 436.1 L873.0 437.0 L873.7 437.3 L874.4 437.8 L875.1 438.5 L875.8 437.0 L876.5 436.3 L877.2 435.7 L877.9 434.1 L878.6 434.4 L879.3 434.3 L880.0 434.3 L880.7 434.5 L881.4 434.8 L882.1 434.7 L882.8 435.0 L883.5 435.2 L884.2 435.3 L884.9 435.1 L885.6 435.0 L886.3 435.3 L887.0 435.0 L887.7 434.2 L888.4 432.9 L889.1 432.0 L889.8 430.4 L890.5 428.9 L891.2 431.4 L891.9 434.8 L892.6 438.0 L893.3 438.2 L894.0 437.4 L894.7 437.1 L895.4 435.9 L896.1 435.8 L896.8 437.1 L897.5 438.5 L898.2 440.1 L898.9 441.9 L899.6 442.8 L900.3 443.7 L901.0 443.9 L901.7 444.3 L902.4 444.6 L903.1 445.1 L903.8 446.1 L904.5 446.1 L905.2 446.7 L905.9 447.3 L906.6 447.6 L907.3 448.2 L908.0 447.7 L908.7 446.6 L909.4 445.2 L910.1 444.5 L910.8 444.5 L911.5 444.7 L912.2 444.5 L912.9 444.6 L913.6 444.8 L914.3 444.9 L915.0 444.9 L915.7 444.9 L916.4 445.2 L917.1 445.2 L917.8 445.3 L918.5 445.7 L919.2 445.2 L919.9 444.8 L920.6 444.1 L921.3 442.4 L922.0 440.9 L922.7 439.7 L923.4 439.5 L924.1 442.9 L924.8 445.3 L925.5 448.0 L926.2 447.8 L926.9 447.7 L927.6 447.0 L928.3 446.6 L929.0 445.7 L929.7 446.9 L930.4 448.9 L931.1 450.9 L931.8 452.4 L932.5 452.7 L933.2 453.4 L933.9 454.2 L934.6 454.4 L935.3 454.8 L936.0 454.9 L936.7 455.3 L937.4 454.5 L938.1 454.3" stroke="#0072B2" stroke-width="2.8" stroke-linejoin="round" stroke-linecap="square" fill="none"/>
<path d="M937.2 454.4V491L940 493.5L942.5 490L944.8 488V454.4Z" fill="#0072B2"/>
<circle cx="940.4" cy="454.4" r="3.9" fill="#f00"/>
</g>
<rect x="79.5" y="15.4" width="906.0" height="527.0" fill="none" stroke="#000" stroke-width="1.1"/>
<path d="M89.4 542.4v4.9M220.4 542.4v4.9M351.4 542.4v4.9M482.4 542.4v4.9M613.4 542.4v4.9M744.4 542.4v4.9M875.4 542.4v4.9M79.5 454.3h-4.9M79.5 366.1h-4.9M79.5 277.8h-4.9M79.5 189.6h-4.9M79.5 101.3h-4.9" stroke="#000" stroke-width="1.1" fill="none"/>
<g class="t" font-size="13.5px" fill="#000" stroke="#000" stroke-width="0.3" letter-spacing="1.15" style="opacity:0.99">
<text x="89.2" y="561.9" text-anchor="middle">2000</text>
<text x="220.2" y="561.9" text-anchor="middle">2004</text>
<text x="351.2" y="561.9" text-anchor="middle">2008</text>
<text x="482.2" y="561.9" text-anchor="middle">2012</text>
<text x="613.2" y="561.9" text-anchor="middle">2016</text>
<text x="744.2" y="561.9" text-anchor="middle">2020</text>
<text x="875.2" y="561.9" text-anchor="middle">2024</text>
<text x="69.8" y="459.1" text-anchor="end">0</text>
<text x="69.8" y="370.9" text-anchor="end">1000</text>
<text x="69.8" y="282.6" text-anchor="end">2000</text>
<text x="69.8" y="194.4" text-anchor="end">3000</text>
<text x="69.8" y="106.1" text-anchor="end">4000</text>
<text x="533" y="582" text-anchor="middle">ds</text>
<text transform="translate(25.2 278.0) rotate(-90)" text-anchor="middle">y</text>
</g>
</svg></body></html>
